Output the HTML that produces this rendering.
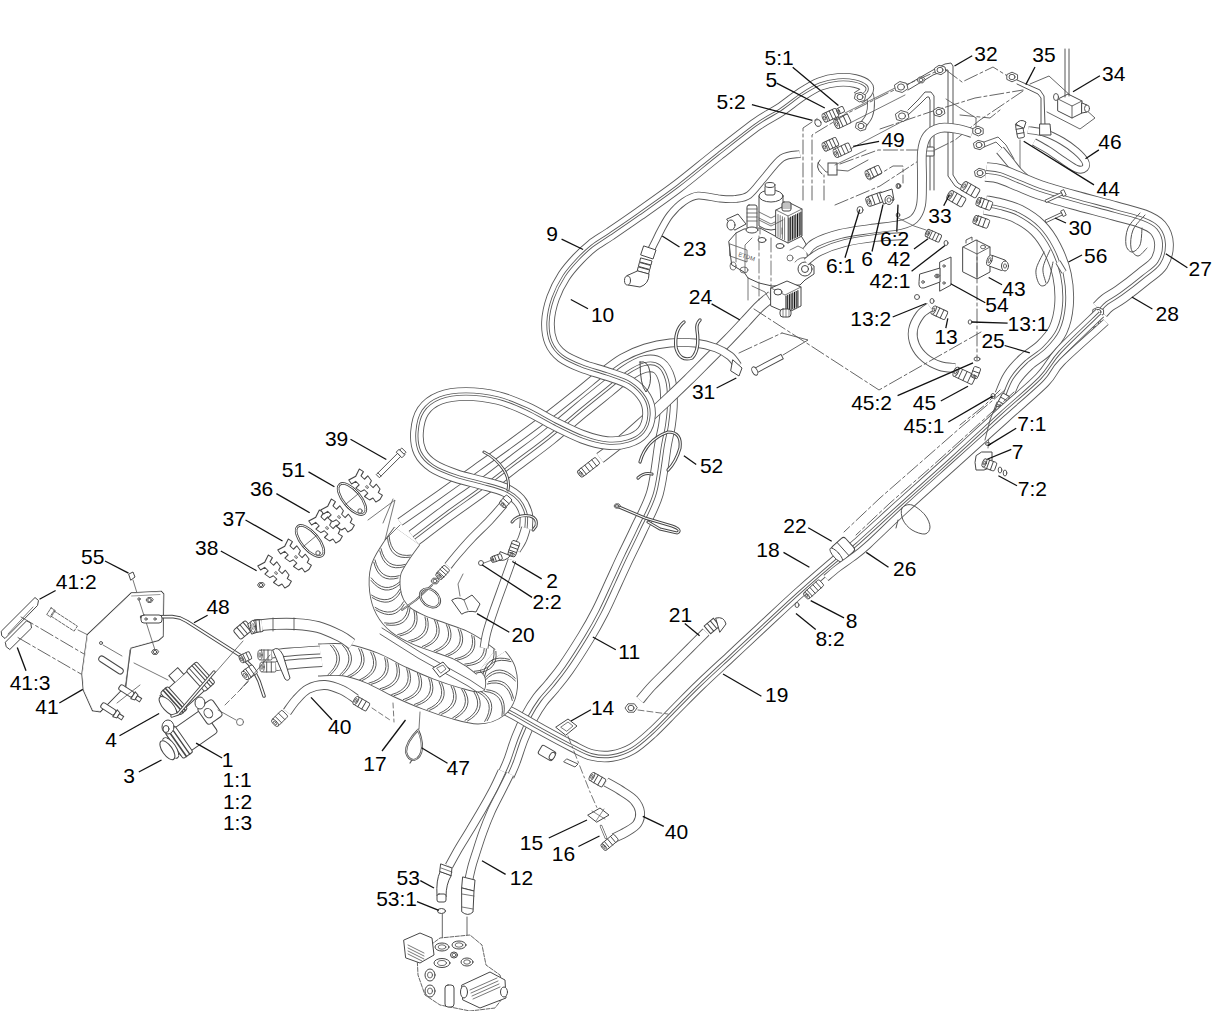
<!DOCTYPE html>
<html><head><meta charset="utf-8"><title>Hydraulic parts diagram</title>
<style>html,body{margin:0;padding:0;background:#fff;width:1214px;height:1011px;overflow:hidden}svg{display:block}</style></head>
<body><svg width="1214" height="1011" viewBox="0 0 1214 1011">
<rect width="1214" height="1011" fill="#fff"/>
<g stroke-linecap="round">
<path d="M414.0,538.0C419.5,533.8 435.7,521.3 447.0,513.0C458.3,504.7 470.5,496.5 482.0,488.0C493.5,479.5 504.8,470.5 516.0,462.0C527.2,453.5 538.2,445.7 549.0,437.0C559.8,428.3 571.3,418.0 581.0,410.0C590.7,402.0 599.3,395.2 607.0,389.0C614.7,382.8 620.7,377.2 627.0,373.0C633.3,368.8 639.7,365.2 645.0,364.0C650.3,362.8 655.3,363.3 659.0,366.0C662.7,368.7 665.3,374.0 667.0,380.0C668.7,386.0 669.0,394.5 669.0,402.0C669.0,409.5 668.0,417.8 667.0,425.0C666.0,432.2 665.0,433.7 663.0,445.0C661.0,456.3 659.0,479.0 655.0,493.0C651.0,507.0 643.8,518.5 639.0,529.0C634.2,539.5 630.2,547.2 626.0,556.0C621.8,564.8 618.3,572.7 614.0,582.0C609.7,591.3 604.7,602.8 600.0,612.0C595.3,621.2 591.7,627.7 586.0,637.0C580.3,646.3 571.7,659.8 566.0,668.0C560.3,676.2 556.3,680.7 552.0,686.0C547.7,691.3 543.7,695.0 540.0,700.0C536.3,705.0 533.3,709.7 530.0,716.0C526.7,722.3 523.0,730.5 520.0,738.0C517.0,745.5 514.3,754.8 512.0,761.0C509.7,767.2 507.0,772.7 506.0,775.0" fill="none" stroke="#5a5a5a" stroke-width="17.6" stroke-linecap="butt" stroke-linejoin="round"/>
<path d="M414.0,538.0C419.5,533.8 435.7,521.3 447.0,513.0C458.3,504.7 470.5,496.5 482.0,488.0C493.5,479.5 504.8,470.5 516.0,462.0C527.2,453.5 538.2,445.7 549.0,437.0C559.8,428.3 571.3,418.0 581.0,410.0C590.7,402.0 599.3,395.2 607.0,389.0C614.7,382.8 620.7,377.2 627.0,373.0C633.3,368.8 639.7,365.2 645.0,364.0C650.3,362.8 655.3,363.3 659.0,366.0C662.7,368.7 665.3,374.0 667.0,380.0C668.7,386.0 669.0,394.5 669.0,402.0C669.0,409.5 668.0,417.8 667.0,425.0C666.0,432.2 665.0,433.7 663.0,445.0C661.0,456.3 659.0,479.0 655.0,493.0C651.0,507.0 643.8,518.5 639.0,529.0C634.2,539.5 630.2,547.2 626.0,556.0C621.8,564.8 618.3,572.7 614.0,582.0C609.7,591.3 604.7,602.8 600.0,612.0C595.3,621.2 591.7,627.7 586.0,637.0C580.3,646.3 571.7,659.8 566.0,668.0C560.3,676.2 556.3,680.7 552.0,686.0C547.7,691.3 543.7,695.0 540.0,700.0C536.3,705.0 533.3,709.7 530.0,716.0C526.7,722.3 523.0,730.5 520.0,738.0C517.0,745.5 514.3,754.8 512.0,761.0C509.7,767.2 507.0,772.7 506.0,775.0" fill="none" stroke="#fff" stroke-width="15.8" stroke-linecap="butt" stroke-linejoin="round"/>
<path d="M414.0,538.0C419.5,533.8 435.7,521.3 447.0,513.0C458.3,504.7 470.5,496.5 482.0,488.0C493.5,479.5 504.8,470.5 516.0,462.0C527.2,453.5 538.2,445.7 549.0,437.0C559.8,428.3 571.3,418.0 581.0,410.0C590.7,402.0 599.3,395.2 607.0,389.0C614.7,382.8 620.7,377.2 627.0,373.0C633.3,368.8 639.7,365.2 645.0,364.0C650.3,362.8 655.3,363.3 659.0,366.0C662.7,368.7 665.3,374.0 667.0,380.0C668.7,386.0 669.0,394.5 669.0,402.0C669.0,409.5 668.0,417.8 667.0,425.0C666.0,432.2 665.0,433.7 663.0,445.0C661.0,456.3 659.0,479.0 655.0,493.0C651.0,507.0 643.8,518.5 639.0,529.0C634.2,539.5 630.2,547.2 626.0,556.0C621.8,564.8 618.3,572.7 614.0,582.0C609.7,591.3 604.7,602.8 600.0,612.0C595.3,621.2 591.7,627.7 586.0,637.0C580.3,646.3 571.7,659.8 566.0,668.0C560.3,676.2 556.3,680.7 552.0,686.0C547.7,691.3 543.7,695.0 540.0,700.0C536.3,705.0 533.3,709.7 530.0,716.0C526.7,722.3 523.0,730.5 520.0,738.0C517.0,745.5 514.3,754.8 512.0,761.0C509.7,767.2 507.0,772.7 506.0,775.0" fill="none" stroke="#5a5a5a" stroke-width="3.8" stroke-linecap="butt" stroke-linejoin="round"/>
<path d="M414.0,538.0C419.5,533.8 435.7,521.3 447.0,513.0C458.3,504.7 470.5,496.5 482.0,488.0C493.5,479.5 504.8,470.5 516.0,462.0C527.2,453.5 538.2,445.7 549.0,437.0C559.8,428.3 571.3,418.0 581.0,410.0C590.7,402.0 599.3,395.2 607.0,389.0C614.7,382.8 620.7,377.2 627.0,373.0C633.3,368.8 639.7,365.2 645.0,364.0C650.3,362.8 655.3,363.3 659.0,366.0C662.7,368.7 665.3,374.0 667.0,380.0C668.7,386.0 669.0,394.5 669.0,402.0C669.0,409.5 668.0,417.8 667.0,425.0C666.0,432.2 665.0,433.7 663.0,445.0C661.0,456.3 659.0,479.0 655.0,493.0C651.0,507.0 643.8,518.5 639.0,529.0C634.2,539.5 630.2,547.2 626.0,556.0C621.8,564.8 618.3,572.7 614.0,582.0C609.7,591.3 604.7,602.8 600.0,612.0C595.3,621.2 591.7,627.7 586.0,637.0C580.3,646.3 571.7,659.8 566.0,668.0C560.3,676.2 556.3,680.7 552.0,686.0C547.7,691.3 543.7,695.0 540.0,700.0C536.3,705.0 533.3,709.7 530.0,716.0C526.7,722.3 523.0,730.5 520.0,738.0C517.0,745.5 514.3,754.8 512.0,761.0C509.7,767.2 507.0,772.7 506.0,775.0" fill="none" stroke="#fff" stroke-width="2.0" stroke-linecap="butt" stroke-linejoin="round"/>
<path d="M502.0,771.0C500.7,773.8 497.2,781.8 494.0,788.0C490.8,794.2 487.0,801.0 483.0,808.0C479.0,815.0 474.0,823.3 470.0,830.0C466.0,836.7 462.5,842.0 459.0,848.0C455.5,854.0 450.7,863.0 449.0,866.0" fill="none" stroke="#5a5a5a" stroke-width="8.8" stroke-linecap="butt" stroke-linejoin="round"/>
<path d="M502.0,771.0C500.7,773.8 497.2,781.8 494.0,788.0C490.8,794.2 487.0,801.0 483.0,808.0C479.0,815.0 474.0,823.3 470.0,830.0C466.0,836.7 462.5,842.0 459.0,848.0C455.5,854.0 450.7,863.0 449.0,866.0" fill="none" stroke="#fff" stroke-width="7.0" stroke-linecap="butt" stroke-linejoin="round"/>
<path d="M510.0,774.0C508.5,777.0 504.2,785.7 501.0,792.0C497.8,798.3 494.0,805.3 491.0,812.0C488.0,818.7 485.3,825.7 483.0,832.0C480.7,838.3 478.8,844.3 477.0,850.0C475.2,855.7 473.3,861.2 472.0,866.0C470.7,870.8 469.5,876.8 469.0,879.0" fill="none" stroke="#5a5a5a" stroke-width="8.8" stroke-linecap="butt" stroke-linejoin="round"/>
<path d="M510.0,774.0C508.5,777.0 504.2,785.7 501.0,792.0C497.8,798.3 494.0,805.3 491.0,812.0C488.0,818.7 485.3,825.7 483.0,832.0C480.7,838.3 478.8,844.3 477.0,850.0C475.2,855.7 473.3,861.2 472.0,866.0C470.7,870.8 469.5,876.8 469.0,879.0" fill="none" stroke="#fff" stroke-width="7.0" stroke-linecap="butt" stroke-linejoin="round"/>
<path d="M772.0,296.0C770.0,297.7 764.5,301.7 760.0,306.0C755.5,310.3 750.3,316.3 745.0,322.0C739.7,327.7 734.2,333.7 728.0,340.0C721.8,346.3 714.7,353.3 708.0,360.0C701.3,366.7 695.2,373.0 688.0,380.0C680.8,387.0 673.0,394.5 665.0,402.0C657.0,409.5 647.8,418.0 640.0,425.0C632.2,432.0 624.7,438.5 618.0,444.0C611.3,449.5 603.0,455.7 600.0,458.0" fill="none" stroke="#5a5a5a" stroke-width="11.8" stroke-linecap="butt" stroke-linejoin="round"/>
<path d="M772.0,296.0C770.0,297.7 764.5,301.7 760.0,306.0C755.5,310.3 750.3,316.3 745.0,322.0C739.7,327.7 734.2,333.7 728.0,340.0C721.8,346.3 714.7,353.3 708.0,360.0C701.3,366.7 695.2,373.0 688.0,380.0C680.8,387.0 673.0,394.5 665.0,402.0C657.0,409.5 647.8,418.0 640.0,425.0C632.2,432.0 624.7,438.5 618.0,444.0C611.3,449.5 603.0,455.7 600.0,458.0" fill="none" stroke="#fff" stroke-width="10.0" stroke-linecap="butt" stroke-linejoin="round"/>
<g transform="translate(589.0,467.0) rotate(-38.0)"><rect x="-11.0" y="-4.0" width="22.0" height="8.0" rx="1.5" fill="#fff" stroke="#474747" stroke-width="0.9"/><line x1="-6.6" y1="-4.0" x2="-6.6" y2="4.0" stroke="#474747" stroke-width="0.9"/><line x1="-2.2" y1="-4.0" x2="-2.2" y2="4.0" stroke="#474747" stroke-width="0.9"/><line x1="2.2" y1="-4.0" x2="2.2" y2="4.0" stroke="#474747" stroke-width="0.9"/><line x1="6.6" y1="-4.0" x2="6.6" y2="4.0" stroke="#474747" stroke-width="0.9"/><ellipse cx="-11.0" cy="0" rx="1.8" ry="4.0" fill="#fff" stroke="#474747" stroke-width="0.9"/><ellipse cx="-11.0" cy="0" rx="0.8" ry="2.0" fill="none" stroke="#474747" stroke-width="0.72"/></g>
<path d="M400.0,522.0C406.7,517.3 427.5,502.8 440.0,494.0C452.5,485.2 463.3,477.3 475.0,469.0C486.7,460.7 498.3,452.5 510.0,444.0C521.7,435.5 533.7,426.7 545.0,418.0C556.3,409.3 568.8,399.3 578.0,392.0C587.2,384.7 592.7,379.7 600.0,374.0C607.3,368.3 614.5,362.3 622.0,358.0C629.5,353.7 637.0,350.5 645.0,348.0C653.0,345.5 661.7,343.8 670.0,343.0C678.3,342.2 687.3,342.2 695.0,343.0C702.7,343.8 710.2,345.8 716.0,348.0C721.8,350.2 726.3,353.0 730.0,356.0C733.7,359.0 736.7,364.3 738.0,366.0" fill="none" stroke="#5a5a5a" stroke-width="8.8" stroke-linecap="butt" stroke-linejoin="round"/>
<path d="M400.0,522.0C406.7,517.3 427.5,502.8 440.0,494.0C452.5,485.2 463.3,477.3 475.0,469.0C486.7,460.7 498.3,452.5 510.0,444.0C521.7,435.5 533.7,426.7 545.0,418.0C556.3,409.3 568.8,399.3 578.0,392.0C587.2,384.7 592.7,379.7 600.0,374.0C607.3,368.3 614.5,362.3 622.0,358.0C629.5,353.7 637.0,350.5 645.0,348.0C653.0,345.5 661.7,343.8 670.0,343.0C678.3,342.2 687.3,342.2 695.0,343.0C702.7,343.8 710.2,345.8 716.0,348.0C721.8,350.2 726.3,353.0 730.0,356.0C733.7,359.0 736.7,364.3 738.0,366.0" fill="none" stroke="#fff" stroke-width="7.0" stroke-linecap="butt" stroke-linejoin="round"/>
<path d="M862.0,126.0C863.2,124.3 867.5,120.0 869.0,116.0C870.5,112.0 871.2,106.3 871.0,102.0C870.8,97.7 869.8,93.3 868.0,90.0C866.2,86.7 861.3,83.3 860.0,82.0" fill="none" stroke="#5a5a5a" stroke-width="7.8" stroke-linecap="butt" stroke-linejoin="round"/>
<path d="M862.0,126.0C863.2,124.3 867.5,120.0 869.0,116.0C870.5,112.0 871.2,106.3 871.0,102.0C870.8,97.7 869.8,93.3 868.0,90.0C866.2,86.7 861.3,83.3 860.0,82.0" fill="none" stroke="#fff" stroke-width="6.0" stroke-linecap="butt" stroke-linejoin="round"/>
<path d="M858.0,98.0C859.3,97.0 864.7,94.0 866.0,92.0C867.3,90.0 867.8,87.8 866.0,86.0C864.2,84.2 859.7,82.0 855.0,81.0C850.3,80.0 843.8,79.5 838.0,80.0C832.2,80.5 826.0,81.7 820.0,84.0C814.0,86.3 808.7,89.7 802.0,94.0C795.3,98.3 787.5,105.0 780.0,110.0C772.5,115.0 767.3,116.7 757.0,124.0C746.7,131.3 731.2,143.7 718.0,154.0C704.8,164.3 691.2,176.0 678.0,186.0C664.8,196.0 650.3,206.0 639.0,214.0C627.7,222.0 617.8,228.7 610.0,234.0C602.2,239.3 597.3,241.8 592.0,246.0C586.7,250.2 582.7,254.0 578.0,259.0C573.3,264.0 568.2,269.5 564.0,276.0C559.8,282.5 555.7,290.3 553.0,298.0C550.3,305.7 548.3,314.7 548.0,322.0C547.7,329.3 548.7,336.3 551.0,342.0C553.3,347.7 556.8,352.0 562.0,356.0C567.2,360.0 574.5,363.0 582.0,366.0C589.5,369.0 599.0,371.2 607.0,374.0C615.0,376.8 623.7,379.0 630.0,383.0C636.3,387.0 641.8,392.7 645.0,398.0C648.2,403.3 649.3,409.3 649.0,415.0C648.7,420.7 646.5,427.7 643.0,432.0C639.5,436.3 634.0,439.2 628.0,441.0C622.0,442.8 614.5,443.7 607.0,443.0C599.5,442.3 591.7,440.2 583.0,437.0C574.3,433.8 564.3,428.7 555.0,424.0C545.7,419.3 536.5,413.3 527.0,409.0C517.5,404.7 508.2,400.5 498.0,398.0C487.8,395.5 475.7,394.0 466.0,394.0C456.3,394.0 447.2,395.2 440.0,398.0C432.8,400.8 426.8,405.3 423.0,411.0C419.2,416.7 417.5,425.2 417.0,432.0C416.5,438.8 417.3,446.3 420.0,452.0C422.7,457.7 427.0,462.0 433.0,466.0C439.0,470.0 447.8,473.2 456.0,476.0C464.2,478.8 473.8,480.7 482.0,483.0C490.2,485.3 498.8,487.2 505.0,490.0C511.2,492.8 515.5,496.0 519.0,500.0C522.5,504.0 524.8,509.3 526.0,514.0C527.2,518.7 526.0,525.7 526.0,528.0" fill="none" stroke="#5a5a5a" stroke-width="13.6" stroke-linecap="butt" stroke-linejoin="round"/>
<path d="M858.0,98.0C859.3,97.0 864.7,94.0 866.0,92.0C867.3,90.0 867.8,87.8 866.0,86.0C864.2,84.2 859.7,82.0 855.0,81.0C850.3,80.0 843.8,79.5 838.0,80.0C832.2,80.5 826.0,81.7 820.0,84.0C814.0,86.3 808.7,89.7 802.0,94.0C795.3,98.3 787.5,105.0 780.0,110.0C772.5,115.0 767.3,116.7 757.0,124.0C746.7,131.3 731.2,143.7 718.0,154.0C704.8,164.3 691.2,176.0 678.0,186.0C664.8,196.0 650.3,206.0 639.0,214.0C627.7,222.0 617.8,228.7 610.0,234.0C602.2,239.3 597.3,241.8 592.0,246.0C586.7,250.2 582.7,254.0 578.0,259.0C573.3,264.0 568.2,269.5 564.0,276.0C559.8,282.5 555.7,290.3 553.0,298.0C550.3,305.7 548.3,314.7 548.0,322.0C547.7,329.3 548.7,336.3 551.0,342.0C553.3,347.7 556.8,352.0 562.0,356.0C567.2,360.0 574.5,363.0 582.0,366.0C589.5,369.0 599.0,371.2 607.0,374.0C615.0,376.8 623.7,379.0 630.0,383.0C636.3,387.0 641.8,392.7 645.0,398.0C648.2,403.3 649.3,409.3 649.0,415.0C648.7,420.7 646.5,427.7 643.0,432.0C639.5,436.3 634.0,439.2 628.0,441.0C622.0,442.8 614.5,443.7 607.0,443.0C599.5,442.3 591.7,440.2 583.0,437.0C574.3,433.8 564.3,428.7 555.0,424.0C545.7,419.3 536.5,413.3 527.0,409.0C517.5,404.7 508.2,400.5 498.0,398.0C487.8,395.5 475.7,394.0 466.0,394.0C456.3,394.0 447.2,395.2 440.0,398.0C432.8,400.8 426.8,405.3 423.0,411.0C419.2,416.7 417.5,425.2 417.0,432.0C416.5,438.8 417.3,446.3 420.0,452.0C422.7,457.7 427.0,462.0 433.0,466.0C439.0,470.0 447.8,473.2 456.0,476.0C464.2,478.8 473.8,480.7 482.0,483.0C490.2,485.3 498.8,487.2 505.0,490.0C511.2,492.8 515.5,496.0 519.0,500.0C522.5,504.0 524.8,509.3 526.0,514.0C527.2,518.7 526.0,525.7 526.0,528.0" fill="none" stroke="#fff" stroke-width="11.8" stroke-linecap="butt" stroke-linejoin="round"/>
<path d="M858.0,98.0C859.3,97.0 864.7,94.0 866.0,92.0C867.3,90.0 867.8,87.8 866.0,86.0C864.2,84.2 859.7,82.0 855.0,81.0C850.3,80.0 843.8,79.5 838.0,80.0C832.2,80.5 826.0,81.7 820.0,84.0C814.0,86.3 808.7,89.7 802.0,94.0C795.3,98.3 787.5,105.0 780.0,110.0C772.5,115.0 767.3,116.7 757.0,124.0C746.7,131.3 731.2,143.7 718.0,154.0C704.8,164.3 691.2,176.0 678.0,186.0C664.8,196.0 650.3,206.0 639.0,214.0C627.7,222.0 617.8,228.7 610.0,234.0C602.2,239.3 597.3,241.8 592.0,246.0C586.7,250.2 582.7,254.0 578.0,259.0C573.3,264.0 568.2,269.5 564.0,276.0C559.8,282.5 555.7,290.3 553.0,298.0C550.3,305.7 548.3,314.7 548.0,322.0C547.7,329.3 548.7,336.3 551.0,342.0C553.3,347.7 556.8,352.0 562.0,356.0C567.2,360.0 574.5,363.0 582.0,366.0C589.5,369.0 599.0,371.2 607.0,374.0C615.0,376.8 623.7,379.0 630.0,383.0C636.3,387.0 641.8,392.7 645.0,398.0C648.2,403.3 649.3,409.3 649.0,415.0C648.7,420.7 646.5,427.7 643.0,432.0C639.5,436.3 634.0,439.2 628.0,441.0C622.0,442.8 614.5,443.7 607.0,443.0C599.5,442.3 591.7,440.2 583.0,437.0C574.3,433.8 564.3,428.7 555.0,424.0C545.7,419.3 536.5,413.3 527.0,409.0C517.5,404.7 508.2,400.5 498.0,398.0C487.8,395.5 475.7,394.0 466.0,394.0C456.3,394.0 447.2,395.2 440.0,398.0C432.8,400.8 426.8,405.3 423.0,411.0C419.2,416.7 417.5,425.2 417.0,432.0C416.5,438.8 417.3,446.3 420.0,452.0C422.7,457.7 427.0,462.0 433.0,466.0C439.0,470.0 447.8,473.2 456.0,476.0C464.2,478.8 473.8,480.7 482.0,483.0C490.2,485.3 498.8,487.2 505.0,490.0C511.2,492.8 515.5,496.0 519.0,500.0C522.5,504.0 524.8,509.3 526.0,514.0C527.2,518.7 526.0,525.7 526.0,528.0" fill="none" stroke="#5a5a5a" stroke-width="3.2" stroke-linecap="butt" stroke-linejoin="round"/>
<path d="M858.0,98.0C859.3,97.0 864.7,94.0 866.0,92.0C867.3,90.0 867.8,87.8 866.0,86.0C864.2,84.2 859.7,82.0 855.0,81.0C850.3,80.0 843.8,79.5 838.0,80.0C832.2,80.5 826.0,81.7 820.0,84.0C814.0,86.3 808.7,89.7 802.0,94.0C795.3,98.3 787.5,105.0 780.0,110.0C772.5,115.0 767.3,116.7 757.0,124.0C746.7,131.3 731.2,143.7 718.0,154.0C704.8,164.3 691.2,176.0 678.0,186.0C664.8,196.0 650.3,206.0 639.0,214.0C627.7,222.0 617.8,228.7 610.0,234.0C602.2,239.3 597.3,241.8 592.0,246.0C586.7,250.2 582.7,254.0 578.0,259.0C573.3,264.0 568.2,269.5 564.0,276.0C559.8,282.5 555.7,290.3 553.0,298.0C550.3,305.7 548.3,314.7 548.0,322.0C547.7,329.3 548.7,336.3 551.0,342.0C553.3,347.7 556.8,352.0 562.0,356.0C567.2,360.0 574.5,363.0 582.0,366.0C589.5,369.0 599.0,371.2 607.0,374.0C615.0,376.8 623.7,379.0 630.0,383.0C636.3,387.0 641.8,392.7 645.0,398.0C648.2,403.3 649.3,409.3 649.0,415.0C648.7,420.7 646.5,427.7 643.0,432.0C639.5,436.3 634.0,439.2 628.0,441.0C622.0,442.8 614.5,443.7 607.0,443.0C599.5,442.3 591.7,440.2 583.0,437.0C574.3,433.8 564.3,428.7 555.0,424.0C545.7,419.3 536.5,413.3 527.0,409.0C517.5,404.7 508.2,400.5 498.0,398.0C487.8,395.5 475.7,394.0 466.0,394.0C456.3,394.0 447.2,395.2 440.0,398.0C432.8,400.8 426.8,405.3 423.0,411.0C419.2,416.7 417.5,425.2 417.0,432.0C416.5,438.8 417.3,446.3 420.0,452.0C422.7,457.7 427.0,462.0 433.0,466.0C439.0,470.0 447.8,473.2 456.0,476.0C464.2,478.8 473.8,480.7 482.0,483.0C490.2,485.3 498.8,487.2 505.0,490.0C511.2,492.8 515.5,496.0 519.0,500.0C522.5,504.0 524.8,509.3 526.0,514.0C527.2,518.7 526.0,525.7 526.0,528.0" fill="none" stroke="#fff" stroke-width="1.4" stroke-linecap="butt" stroke-linejoin="round"/>
<path d="M800.0,154.0C797.0,154.7 788.0,154.0 782.0,158.0C776.0,162.0 769.5,171.8 764.0,178.0C758.5,184.2 753.8,191.5 749.0,195.0C744.2,198.5 739.8,198.4 735.0,199.0C730.2,199.6 726.2,199.2 720.0,198.6C713.8,198.0 704.0,195.1 698.0,195.6C692.0,196.1 688.7,198.3 684.0,201.5C679.3,204.7 673.8,210.2 670.0,215.0C666.2,219.8 663.5,225.5 661.0,230.0C658.5,234.5 656.7,238.7 655.0,242.0C653.3,245.3 651.7,248.7 651.0,250.0" fill="none" stroke="#5a5a5a" stroke-width="7.8" stroke-linecap="butt" stroke-linejoin="round"/>
<path d="M800.0,154.0C797.0,154.7 788.0,154.0 782.0,158.0C776.0,162.0 769.5,171.8 764.0,178.0C758.5,184.2 753.8,191.5 749.0,195.0C744.2,198.5 739.8,198.4 735.0,199.0C730.2,199.6 726.2,199.2 720.0,198.6C713.8,198.0 704.0,195.1 698.0,195.6C692.0,196.1 688.7,198.3 684.0,201.5C679.3,204.7 673.8,210.2 670.0,215.0C666.2,219.8 663.5,225.5 661.0,230.0C658.5,234.5 656.7,238.7 655.0,242.0C653.3,245.3 651.7,248.7 651.0,250.0" fill="none" stroke="#fff" stroke-width="6.0" stroke-linecap="butt" stroke-linejoin="round"/>
<path d="M644,246 L656,250 L653,259 L641,255 Z" fill="#fff" stroke="#474747" stroke-width="1"/>
<path d="M641.0,258.0 L652.0,261.0 L651.0,265.0 L640.0,262.0 Z" fill="#fff" stroke="#474747" stroke-width="1"/>
<path d="M639.8,262.5 L650.8,265.5 L649.8,269.5 L638.8,266.5 Z" fill="#fff" stroke="#474747" stroke-width="1"/>
<path d="M638.6,267.0 L649.6,270.0 L648.6,274.0 L637.6,271.0 Z" fill="#fff" stroke="#474747" stroke-width="1"/>
<path d="M638,271 L649,274 Q649,284 640,287 L628,285 L627,276 Z" fill="#fff" stroke="#474747" stroke-width="1"/>
<ellipse cx="627.5" cy="280.5" rx="3" ry="4.5" fill="#fff" stroke="#474747" stroke-width="1"/>
<path d="M729,241 L736,233 L744,229 L760,228 L775,236 L800,234 L806,244 L808,262 L814,266 L814,274 L805,280 L800,285 L772,286 L759,283 L748,278 L744,272 L732,265 Z" fill="#fff" stroke="#474747" stroke-width="1"/>
<path d="M727,219 L738,214 L746,224 L735,230 Z" fill="#fff" stroke="#474747" stroke-width="1"/>
<ellipse cx="731" cy="225" rx="4" ry="5" fill="#fff" stroke="#474747" stroke-width="1"/>
<rect x="747" y="205" width="10" height="24" rx="2" fill="#fff" stroke="#474747" stroke-width="1"/>
<path d="M747.0,209.0 L757.0,209.0" fill="none" stroke="#555" stroke-width="0.8" stroke-linejoin="round"/>
<path d="M747.0,213.0 L757.0,213.0" fill="none" stroke="#555" stroke-width="0.8" stroke-linejoin="round"/>
<path d="M747.0,217.0 L757.0,217.0" fill="none" stroke="#555" stroke-width="0.8" stroke-linejoin="round"/>
<path d="M747.0,221.0 L757.0,221.0" fill="none" stroke="#555" stroke-width="0.8" stroke-linejoin="round"/>
<ellipse cx="752" cy="230" rx="6" ry="3" fill="#fff" stroke="#474747" stroke-width="1"/>
<path d="M759,196 L759,226 Q771,234 783,226 L783,196 Z" fill="#fff" stroke="#474747" stroke-width="1"/>
<ellipse cx="771" cy="196" rx="12" ry="6" fill="#fff" stroke="#474747" stroke-width="1"/>
<path d="M759.0,212.0 L771.0,218.0 L783.0,212.0" fill="none" stroke="#555" stroke-width="0.8" stroke-linejoin="round"/>
<path d="M759.0,218.0 L771.0,224.0 L783.0,218.0" fill="none" stroke="#555" stroke-width="0.8" stroke-linejoin="round"/>
<rect x="765" y="185" width="10" height="10" rx="2" fill="#fff" stroke="#474747" stroke-width="1"/>
<ellipse cx="770" cy="185" rx="5" ry="2.5" fill="#fff" stroke="#474747" stroke-width="1"/>
<path d="M776,210 L790,203 L802,209 L802,236 L788,243 L776,237 Z" fill="#fff" stroke="#474747" stroke-width="1"/>
<path d="M776.0,210.0 L788.0,216.0 L802.0,209.0" fill="none" stroke="#555" stroke-width="0.8" stroke-linejoin="round"/>
<path d="M788.0,216.0 L788.0,243.0" fill="none" stroke="#555" stroke-width="0.8" stroke-linejoin="round"/>
<path d="M789.0,218.0 L789.0,241.0 M790.7,217.1 L790.7,240.1 M792.4,216.3 L792.4,239.3 M794.1,215.4 L794.1,238.4 M795.8,214.6 L795.8,237.6 M797.5,213.8 L797.5,236.8 M799.2,212.9 L799.2,235.9 M800.9,212.1 L800.9,235.1" stroke="#111" stroke-width="1.0"/>
<path d="M778.0,214.5 L778.0,236.5 M780.2,215.6 L780.2,237.6 M782.4,216.7 L782.4,238.7 M784.6,217.8 L784.6,239.8" stroke="#555" stroke-width="0.8"/>
<rect x="782" y="202" width="9" height="9" rx="2" fill="#fff" stroke="#474747" stroke-width="1"/>
<path d="M782.0,204.0 L791.0,204.0" fill="none" stroke="#555" stroke-width="0.7" stroke-linejoin="round"/>
<path d="M782.0,206.0 L791.0,206.0" fill="none" stroke="#555" stroke-width="0.7" stroke-linejoin="round"/>
<path d="M782.0,208.0 L791.0,208.0" fill="none" stroke="#555" stroke-width="0.7" stroke-linejoin="round"/>
<ellipse cx="805" cy="269" rx="7" ry="7" fill="#fff" stroke="#474747" stroke-width="1"/>
<ellipse cx="805" cy="269" rx="3.5" ry="3.5" fill="#fff" stroke="#474747" stroke-width="1"/>
<path d="M730,244 L747,250 L747,262 L730,256 Z" fill="none" stroke="#555" stroke-width="0.8"/>
<text x="738" y="256" font-family="Liberation Sans" font-size="6" transform="rotate(18 738 256)" fill="#555">ETDM</text>
<path d="M759.0,236.0 L759.0,300.0" fill="none" stroke="#555" stroke-width="0.8" stroke-dasharray="14 3 3 3" stroke-linejoin="round"/>
<path d="M771.0,238.0 L771.0,300.0" fill="none" stroke="#555" stroke-width="0.8" stroke-dasharray="14 3 3 3" stroke-linejoin="round"/>
<path d="M748.0,278.0 L748.0,300.0" fill="none" stroke="#555" stroke-width="0.8" stroke-linejoin="round"/>
<ellipse cx="762" cy="240" rx="4" ry="2.5" fill="#fff" stroke="#474747" stroke-width="1"/>
<ellipse cx="780" cy="246" rx="4" ry="2.5" fill="#fff" stroke="#474747" stroke-width="1"/>
<ellipse cx="790" cy="258" rx="3" ry="3" fill="none" stroke="#555" stroke-width="0.8"/>
<path d="M736.0,233.0 L736.0,262.0" fill="none" stroke="#555" stroke-width="0.8" stroke-linejoin="round"/>
<path d="M745.0,272.0 L745.0,245.0 L752.0,238.0" fill="none" stroke="#555" stroke-width="0.8" stroke-linejoin="round"/>
<path d="M790.0,250.0 L798.0,246.0 L806.0,250.0" fill="none" stroke="#555" stroke-width="0.8" stroke-linejoin="round"/>
<path d="M795,262 Q800,256 808,258" fill="none" stroke="#555" stroke-width="0.8"/>
<path d="M752,286 L765,292 L770,300" fill="none" stroke="#555" stroke-width="0.8"/>
<ellipse cx="744" cy="270" rx="4" ry="3" fill="none" stroke="#555" stroke-width="0.8"/>
<ellipse cx="733" cy="266" rx="3" ry="4" fill="none" stroke="#555" stroke-width="0.8"/>
<path d="M760.0,228.0 L760.0,234.0" fill="none" stroke="#555" stroke-width="0.8" stroke-linejoin="round"/>
<path d="M782.0,228.0 L782.0,234.0" fill="none" stroke="#555" stroke-width="0.8" stroke-linejoin="round"/>
<path d="M759.0,220.0 L771.0,226.0 L783.0,220.0" fill="none" stroke="#555" stroke-width="0.8" stroke-linejoin="round"/>
<path d="M771,288 L787,281 L801,287 L801,306 L787,313 L771,306 Z" fill="#fff" stroke="#474747" stroke-width="1"/>
<path d="M771.0,288.0 L785.0,295.0 L801.0,287.0" fill="none" stroke="#555" stroke-width="0.8" stroke-linejoin="round"/>
<path d="M786.0,296.0 L786.0,312.0 M787.7,295.2 L787.7,311.2 M789.4,294.5 L789.4,310.5 M791.1,293.7 L791.1,309.7 M792.8,292.9 L792.8,308.9 M794.5,292.2 L794.5,308.2 M796.2,291.4 L796.2,307.4 M797.9,290.6 L797.9,306.6" stroke="#111" stroke-width="1.0"/>
<rect x="780" y="309" width="11" height="8" rx="3" fill="#fff" stroke="#474747" stroke-width="1"/>
<path d="M783.0,309.0 L783.0,317.0" fill="none" stroke="#555" stroke-width="0.7" stroke-linejoin="round"/>
<path d="M786.0,309.0 L786.0,317.0" fill="none" stroke="#555" stroke-width="0.7" stroke-linejoin="round"/>
<path d="M789.0,309.0 L789.0,317.0" fill="none" stroke="#555" stroke-width="0.7" stroke-linejoin="round"/>
<ellipse cx="778" cy="292" rx="4" ry="3" fill="#fff" stroke="#474747" stroke-width="1"/>
<g transform="translate(831.0,115.0) rotate(-25.0)"><rect x="-7.0" y="-4.5" width="14.0" height="9.0" rx="1.5" fill="#fff" stroke="#474747" stroke-width="0.9"/><line x1="-3.5" y1="-4.5" x2="-3.5" y2="4.5" stroke="#474747" stroke-width="0.9"/><line x1="0.0" y1="-4.5" x2="0.0" y2="4.5" stroke="#474747" stroke-width="0.9"/><line x1="3.5" y1="-4.5" x2="3.5" y2="4.5" stroke="#474747" stroke-width="0.9"/><ellipse cx="-7.0" cy="0" rx="2.0" ry="4.5" fill="#fff" stroke="#474747" stroke-width="0.9"/><ellipse cx="-7.0" cy="0" rx="0.9" ry="2.2" fill="none" stroke="#474747" stroke-width="0.72"/></g>
<g transform="translate(841.0,110.0) rotate(-25.0)"><rect x="-3.0" y="-3.0" width="6.0" height="6.0" rx="1.5" fill="#fff" stroke="#474747" stroke-width="0.9"/><ellipse cx="-3.0" cy="0" rx="1.3" ry="3.0" fill="#fff" stroke="#474747" stroke-width="0.9"/><ellipse cx="-3.0" cy="0" rx="0.6" ry="1.5" fill="none" stroke="#474747" stroke-width="0.72"/></g>
<ellipse cx="818.0" cy="123.0" rx="3" ry="3.5" transform="rotate(-20 818.0 123.0)" fill="none" stroke="#474747" stroke-width="0.9"/>
<g transform="translate(843.0,121.0) rotate(-25.0)"><rect x="-7.0" y="-5.0" width="14.0" height="10.0" rx="1.5" fill="#fff" stroke="#474747" stroke-width="0.9"/><line x1="-2.3" y1="-5.0" x2="-2.3" y2="5.0" stroke="#474747" stroke-width="0.9"/><line x1="2.3" y1="-5.0" x2="2.3" y2="5.0" stroke="#474747" stroke-width="0.9"/><ellipse cx="-7.0" cy="0" rx="2.2" ry="5.0" fill="#fff" stroke="#474747" stroke-width="0.9"/><ellipse cx="-7.0" cy="0" rx="1.0" ry="2.5" fill="none" stroke="#474747" stroke-width="0.72"/></g>
<g transform="translate(831.0,144.0) rotate(-25.0)"><rect x="-7.0" y="-4.5" width="14.0" height="9.0" rx="1.5" fill="#fff" stroke="#474747" stroke-width="0.9"/><line x1="-3.5" y1="-4.5" x2="-3.5" y2="4.5" stroke="#474747" stroke-width="0.9"/><line x1="0.0" y1="-4.5" x2="0.0" y2="4.5" stroke="#474747" stroke-width="0.9"/><line x1="3.5" y1="-4.5" x2="3.5" y2="4.5" stroke="#474747" stroke-width="0.9"/><ellipse cx="-7.0" cy="0" rx="2.0" ry="4.5" fill="#fff" stroke="#474747" stroke-width="0.9"/><ellipse cx="-7.0" cy="0" rx="0.9" ry="2.2" fill="none" stroke="#474747" stroke-width="0.72"/></g>
<g transform="translate(843.0,150.0) rotate(-25.0)"><rect x="-8.0" y="-4.5" width="16.0" height="9.0" rx="1.5" fill="#fff" stroke="#474747" stroke-width="0.9"/><line x1="-4.0" y1="-4.5" x2="-4.0" y2="4.5" stroke="#474747" stroke-width="0.9"/><line x1="0.0" y1="-4.5" x2="0.0" y2="4.5" stroke="#474747" stroke-width="0.9"/><line x1="4.0" y1="-4.5" x2="4.0" y2="4.5" stroke="#474747" stroke-width="0.9"/><ellipse cx="-8.0" cy="0" rx="2.0" ry="4.5" fill="#fff" stroke="#474747" stroke-width="0.9"/><ellipse cx="-8.0" cy="0" rx="0.9" ry="2.2" fill="none" stroke="#474747" stroke-width="0.72"/></g>
<path d="M859.0,101.7 L854.4,98.6 L855.4,93.9 L861.0,92.3 L865.6,95.4 L864.6,100.1Z" fill="#fff" stroke="#474747" stroke-width="0.9"/>
<ellipse cx="860.0" cy="97.0" rx="3.0" ry="2.7" fill="none" stroke="#474747" stroke-width="0.9"/>
<path d="M860.0,130.7 L855.4,127.6 L856.4,122.9 L862.0,121.3 L866.6,124.4 L865.6,129.1Z" fill="#fff" stroke="#474747" stroke-width="0.9"/>
<ellipse cx="861.0" cy="126.0" rx="3.0" ry="2.7" fill="none" stroke="#474747" stroke-width="0.9"/>
<path d="M818.0,163.0 L826.0,172.0 L830.0,172.0" fill="none" stroke="#555" stroke-width="0.9" stroke-linejoin="round"/>
<path d="M820,160 Q814,167 822,174" fill="none" stroke="#474747" stroke-width="1"/>
<rect x="828" y="163" width="9" height="12" fill="#fff" stroke="#474747" stroke-width="1"/>
<path d="M837.0,170.0 L848.0,171.0 L868.0,160.0" fill="none" stroke="#555" stroke-width="0.9" stroke-linejoin="round"/>
<g transform="translate(874.0,172.0) rotate(-25.0)"><rect x="-7.0" y="-4.5" width="14.0" height="9.0" rx="1.5" fill="#fff" stroke="#474747" stroke-width="0.9"/><line x1="-2.3" y1="-4.5" x2="-2.3" y2="4.5" stroke="#474747" stroke-width="0.9"/><line x1="2.3" y1="-4.5" x2="2.3" y2="4.5" stroke="#474747" stroke-width="0.9"/><ellipse cx="-7.0" cy="0" rx="2.0" ry="4.5" fill="#fff" stroke="#474747" stroke-width="0.9"/><ellipse cx="-7.0" cy="0" rx="0.9" ry="2.2" fill="none" stroke="#474747" stroke-width="0.72"/></g>
<ellipse cx="898.0" cy="186.0" rx="2" ry="2.5" transform="rotate(0 898.0 186.0)" fill="none" stroke="#474747" stroke-width="0.9"/>
<path d="M845.0,113.0 L905.0,83.0" fill="none" stroke="#555" stroke-width="0.8" stroke-linejoin="round"/>
<path d="M850.0,123.0 L905.0,95.0" fill="none" stroke="#555" stroke-width="0.8" stroke-linejoin="round"/>
<path d="M850.0,149.0 L905.0,120.0" fill="none" stroke="#555" stroke-width="0.8" stroke-linejoin="round"/>
<path d="M835.0,165.0 L866.0,150.0" fill="none" stroke="#555" stroke-width="0.8" stroke-linejoin="round"/>
<path d="M803.0,200.0 L803.0,128.0 L818.0,118.0" fill="none" stroke="#555" stroke-width="0.9" stroke-dasharray="14 3 3 3" stroke-linejoin="round"/>
<path d="M812.0,200.0 L812.0,135.0 L850.0,112.0 L890.0,92.0 L935.0,72.0" fill="none" stroke="#555" stroke-width="0.9" stroke-dasharray="14 3 3 3" stroke-linejoin="round"/>
<path d="M824.0,200.0 L824.0,175.0" fill="none" stroke="#555" stroke-width="0.9" stroke-dasharray="14 3 3 3" stroke-linejoin="round"/>
<path d="M840.0,164.0 L878.0,150.0 L925.0,150.0" fill="none" stroke="#555" stroke-width="0.9" stroke-dasharray="14 3 3 3" stroke-linejoin="round"/>
<path d="M870.0,180.0 L893.0,166.0 L903.0,166.0 L903.0,183.0" fill="none" stroke="#555" stroke-width="0.9" stroke-dasharray="14 3 3 3" stroke-linejoin="round"/>
<path d="M835.0,205.0 L880.0,186.0 L935.0,150.0 L955.0,140.0 L980.0,120.0 L1023.0,91.0" fill="none" stroke="#555" stroke-width="0.9" stroke-dasharray="14 3 3 3" stroke-linejoin="round"/>
<path d="M946.0,70.0 L962.0,82.0 L993.0,67.0 L1009.0,77.0" fill="none" stroke="#555" stroke-width="0.9" stroke-dasharray="14 3 3 3" stroke-linejoin="round"/>
<path d="M880.0,129.0 L930.0,112.0 L975.0,98.0 L1023.0,90.0" fill="none" stroke="#555" stroke-width="0.9" stroke-dasharray="14 3 3 3" stroke-linejoin="round"/>
<path d="M946.0,99.0 L976.0,118.0" fill="none" stroke="#555" stroke-width="0.8" stroke-linejoin="round"/>
<path d="M976.0,118.0 L976.0,135.0" fill="none" stroke="#555" stroke-width="0.9" stroke-dasharray="14 3 3 3" stroke-linejoin="round"/>
<path d="M960.0,115.0 L990.0,118.0 L1000.0,110.0" fill="none" stroke="#555" stroke-width="0.9" stroke-dasharray="14 3 3 3" stroke-linejoin="round"/>
<path d="M907.0,85.0 L933.0,70.0 L945.0,64.0 L951.0,63.0 L953.0,66.0 L953.0,175.0 L958.0,183.0 L966.0,188.0" fill="none" stroke="#555" stroke-width="1.0" stroke-linejoin="round"/>
<path d="M908.0,90.0 L933.0,75.0 L946.0,70.0 L948.0,70.0 L948.0,176.0 L955.0,186.0 L963.0,191.0" fill="none" stroke="#555" stroke-width="1.0" stroke-linejoin="round"/>
<path d="M945.6,71.6 L941.0,74.7 L935.4,73.1 L934.4,68.4 L939.0,65.3 L944.6,66.9Z" fill="#fff" stroke="#474747" stroke-width="0.9"/>
<ellipse cx="940.0" cy="70.0" rx="3.0" ry="2.7" fill="none" stroke="#474747" stroke-width="0.9"/>
<path d="M907.6,88.9 L902.2,92.5 L895.6,90.6 L894.4,85.1 L899.8,81.5 L906.4,83.4Z" fill="#fff" stroke="#474747" stroke-width="0.9"/>
<ellipse cx="901.0" cy="87.0" rx="3.5" ry="3.1" fill="none" stroke="#474747" stroke-width="0.9"/>
<path d="M908.0,110.0 L918.0,100.0 L925.0,92.0 L931.0,92.0 L934.0,96.0 L934.0,190.0" fill="none" stroke="#555" stroke-width="1.0" stroke-linejoin="round"/>
<path d="M908.0,115.0 L920.0,104.0 L927.0,97.0 L929.0,97.0 L930.0,100.0 L930.0,190.0" fill="none" stroke="#555" stroke-width="1.0" stroke-linejoin="round"/>
<path d="M908.6,117.9 L903.2,121.5 L896.6,119.6 L895.4,114.1 L900.8,110.5 L907.4,112.4Z" fill="#fff" stroke="#474747" stroke-width="0.9"/>
<ellipse cx="902.0" cy="116.0" rx="3.5" ry="3.1" fill="none" stroke="#474747" stroke-width="0.9"/>
<path d="M944.6,113.6 L940.0,116.7 L934.4,115.1 L933.4,110.4 L938.0,107.3 L943.6,108.9Z" fill="#fff" stroke="#474747" stroke-width="0.9"/>
<ellipse cx="939.0" cy="112.0" rx="3.0" ry="2.7" fill="none" stroke="#474747" stroke-width="0.9"/>
<path d="M925.0,80.0 L923.0,82.8 L919.0,82.8 L917.0,80.0 L919.0,77.2 L923.0,77.2Z" fill="#fff" stroke="#474747" stroke-width="0.9"/>
<ellipse cx="921.0" cy="80.0" rx="2.0" ry="1.8" fill="none" stroke="#474747" stroke-width="0.9"/>
<rect x="925" y="147" width="9" height="9" rx="1" fill="#fff" stroke="#474747" stroke-width="1"/>
<path d="M925.0,151.0 L934.0,151.0" fill="none" stroke="#555" stroke-width="0.8" stroke-linejoin="round"/>
<path d="M806.0,252.0C807.5,250.5 809.3,246.0 815.0,243.0C820.7,240.0 830.8,236.3 840.0,234.0C849.2,231.7 860.0,230.5 870.0,229.0C880.0,227.5 892.7,226.7 900.0,225.0C907.3,223.3 910.5,222.3 914.0,219.0C917.5,215.7 919.7,211.5 921.0,205.0C922.3,198.5 921.8,188.8 922.0,180.0C922.2,171.2 921.2,159.3 922.0,152.0C922.8,144.7 924.0,140.0 927.0,136.0C930.0,132.0 934.8,129.2 940.0,128.0C945.2,126.8 952.7,128.2 958.0,129.0C963.3,129.8 969.7,132.3 972.0,133.0" fill="none" stroke="#5a5a5a" stroke-width="9.8" stroke-linecap="butt" stroke-linejoin="round"/>
<path d="M806.0,252.0C807.5,250.5 809.3,246.0 815.0,243.0C820.7,240.0 830.8,236.3 840.0,234.0C849.2,231.7 860.0,230.5 870.0,229.0C880.0,227.5 892.7,226.7 900.0,225.0C907.3,223.3 910.5,222.3 914.0,219.0C917.5,215.7 919.7,211.5 921.0,205.0C922.3,198.5 921.8,188.8 922.0,180.0C922.2,171.2 921.2,159.3 922.0,152.0C922.8,144.7 924.0,140.0 927.0,136.0C930.0,132.0 934.8,129.2 940.0,128.0C945.2,126.8 952.7,128.2 958.0,129.0C963.3,129.8 969.7,132.3 972.0,133.0" fill="none" stroke="#fff" stroke-width="8.0" stroke-linecap="butt" stroke-linejoin="round"/>
<path d="M806.0,262.0C808.3,260.3 813.5,255.2 820.0,252.0C826.5,248.8 835.8,245.3 845.0,243.0C854.2,240.7 865.0,239.2 875.0,238.0C885.0,236.8 900.0,236.3 905.0,236.0" fill="none" stroke="#5a5a5a" stroke-width="7.8" stroke-linecap="butt" stroke-linejoin="round"/>
<path d="M806.0,262.0C808.3,260.3 813.5,255.2 820.0,252.0C826.5,248.8 835.8,245.3 845.0,243.0C854.2,240.7 865.0,239.2 875.0,238.0C885.0,236.8 900.0,236.3 905.0,236.0" fill="none" stroke="#fff" stroke-width="6.0" stroke-linecap="butt" stroke-linejoin="round"/>
<path d="M978.0,135.8 L972.8,133.4 L972.8,128.6 L978.0,126.2 L983.2,128.6 L983.2,133.4Z" fill="#fff" stroke="#474747" stroke-width="0.9"/>
<ellipse cx="978.0" cy="131.0" rx="3.0" ry="2.7" fill="none" stroke="#474747" stroke-width="0.9"/>
<path d="M984.6,146.6 L980.0,149.7 L974.4,148.1 L973.4,143.4 L978.0,140.3 L983.6,141.9Z" fill="#fff" stroke="#474747" stroke-width="0.9"/>
<ellipse cx="979.0" cy="145.0" rx="3.0" ry="2.7" fill="none" stroke="#474747" stroke-width="0.9"/>
<path d="M985.6,174.6 L981.0,177.7 L975.4,176.1 L974.4,171.4 L979.0,168.3 L984.6,169.9Z" fill="#fff" stroke="#474747" stroke-width="0.9"/>
<ellipse cx="980.0" cy="173.0" rx="3.0" ry="2.7" fill="none" stroke="#474747" stroke-width="0.9"/>
<g transform="translate(971.0,190.0) rotate(30.0)"><rect x="-8.0" y="-5.0" width="16.0" height="10.0" rx="1.5" fill="#fff" stroke="#474747" stroke-width="0.9"/><line x1="-2.7" y1="-5.0" x2="-2.7" y2="5.0" stroke="#474747" stroke-width="0.9"/><line x1="2.7" y1="-5.0" x2="2.7" y2="5.0" stroke="#474747" stroke-width="0.9"/><ellipse cx="-8.0" cy="0" rx="2.2" ry="5.0" fill="#fff" stroke="#474747" stroke-width="0.9"/><ellipse cx="-8.0" cy="0" rx="1.0" ry="2.5" fill="none" stroke="#474747" stroke-width="0.72"/></g>
<g transform="translate(957.0,199.0) rotate(30.0)"><rect x="-8.0" y="-5.0" width="16.0" height="10.0" rx="1.5" fill="#fff" stroke="#474747" stroke-width="0.9"/><line x1="-2.7" y1="-5.0" x2="-2.7" y2="5.0" stroke="#474747" stroke-width="0.9"/><line x1="2.7" y1="-5.0" x2="2.7" y2="5.0" stroke="#474747" stroke-width="0.9"/><ellipse cx="-8.0" cy="0" rx="2.2" ry="5.0" fill="#fff" stroke="#474747" stroke-width="0.9"/><ellipse cx="-8.0" cy="0" rx="1.0" ry="2.5" fill="none" stroke="#474747" stroke-width="0.72"/></g>
<path d="M1017.2,79.4 L1012.0,81.8 L1006.8,79.4 L1006.8,74.6 L1012.0,72.2 L1017.2,74.6Z" fill="#fff" stroke="#474747" stroke-width="0.9"/>
<ellipse cx="1012.0" cy="77.0" rx="3.0" ry="2.7" fill="none" stroke="#474747" stroke-width="0.9"/>
<path d="M1017.0,80.0 L1040.0,90.0 L1044.0,96.0 L1045.0,125.0" fill="none" stroke="#555" stroke-width="1.0" stroke-linejoin="round"/>
<path d="M1017.0,84.0 L1038.0,94.0 L1041.0,98.0 L1041.0,125.0" fill="none" stroke="#555" stroke-width="1.0" stroke-linejoin="round"/>
<path d="M1030.0,84.0 L1049.0,76.0 L1095.0,118.0 L1080.0,129.0 L1047.0,112.0" fill="none" stroke="#555" stroke-width="0.9" stroke-linejoin="round"/>
<path d="M1058,99 L1068,94 L1082,101 L1082,113 L1072,118 L1058,111 Z" fill="#fff" stroke="#474747" stroke-width="1"/>
<path d="M1058.0,99.0 L1072.0,106.0 L1082.0,101.0" fill="none" stroke="#555" stroke-width="0.9" stroke-linejoin="round"/>
<path d="M1072.0,106.0 L1072.0,118.0" fill="none" stroke="#555" stroke-width="0.9" stroke-linejoin="round"/>
<path d="M1082,103 L1087,105 L1087,112 L1082,113 Z" fill="#fff" stroke="#474747" stroke-width="1"/>
<ellipse cx="1087" cy="108.5" rx="2.5" ry="3.5" fill="#fff" stroke="#474747" stroke-width="0.9"/>
<path d="M1065.0,49.0 L1065.0,97.0" fill="none" stroke="#555" stroke-width="1.0" stroke-linejoin="round"/>
<path d="M1069.0,49.0 L1069.0,96.0" fill="none" stroke="#555" stroke-width="1.0" stroke-linejoin="round"/>
<ellipse cx="1056" cy="97" rx="2.5" ry="3.5" fill="#fff" stroke="#474747" stroke-width="0.9"/>
<path d="M1028.0,130.0C1030.8,130.5 1039.3,131.2 1045.0,133.0C1050.7,134.8 1056.8,138.0 1062.0,141.0C1067.2,144.0 1072.2,147.7 1076.0,151.0C1079.8,154.3 1083.5,158.2 1085.0,161.0C1086.5,163.8 1086.3,166.7 1085.0,168.0C1083.7,169.3 1080.5,170.2 1077.0,169.0C1073.5,167.8 1068.8,164.2 1064.0,161.0C1059.2,157.8 1053.0,153.2 1048.0,150.0C1043.0,146.8 1036.3,143.3 1034.0,142.0" fill="none" stroke="#5a5a5a" stroke-width="7.8" stroke-linecap="butt" stroke-linejoin="round"/>
<path d="M1028.0,130.0C1030.8,130.5 1039.3,131.2 1045.0,133.0C1050.7,134.8 1056.8,138.0 1062.0,141.0C1067.2,144.0 1072.2,147.7 1076.0,151.0C1079.8,154.3 1083.5,158.2 1085.0,161.0C1086.5,163.8 1086.3,166.7 1085.0,168.0C1083.7,169.3 1080.5,170.2 1077.0,169.0C1073.5,167.8 1068.8,164.2 1064.0,161.0C1059.2,157.8 1053.0,153.2 1048.0,150.0C1043.0,146.8 1036.3,143.3 1034.0,142.0" fill="none" stroke="#fff" stroke-width="6.0" stroke-linecap="butt" stroke-linejoin="round"/>
<path d="M1040,124 L1050,124 L1051,135 L1040,135 Z" fill="#fff" stroke="#474747" stroke-width="1"/>
<g transform="translate(1020.0,131.0) rotate(80.0)"><rect x="-7.0" y="-3.5" width="14.0" height="7.0" rx="1.5" fill="#fff" stroke="#474747" stroke-width="0.9"/><line x1="-2.3" y1="-3.5" x2="-2.3" y2="3.5" stroke="#474747" stroke-width="0.9"/><line x1="2.3" y1="-3.5" x2="2.3" y2="3.5" stroke="#474747" stroke-width="0.9"/><ellipse cx="-7.0" cy="0" rx="1.5" ry="3.5" fill="#fff" stroke="#474747" stroke-width="0.9"/><ellipse cx="-7.0" cy="0" rx="0.7" ry="1.8" fill="none" stroke="#474747" stroke-width="0.72"/></g>
<path d="M1016,124 Q1020,118 1026,122 L1024,128 Z" fill="#fff" stroke="#474747" stroke-width="1"/>
<path d="M1020.0,140.0 L1020.0,178.0" fill="none" stroke="#555" stroke-width="0.8" stroke-linejoin="round"/>
<path d="M984.0,142.0 L998.0,137.0 L1006.0,145.0 L1014.0,159.0" fill="none" stroke="#555" stroke-width="0.9" stroke-linejoin="round"/>
<path d="M984.0,147.0 L996.0,142.0 L1003.0,149.0 L1010.0,161.0" fill="none" stroke="#555" stroke-width="0.9" stroke-linejoin="round"/>
<path d="M1000.0,150.0C1001.7,152.0 1007.0,158.3 1010.0,162.0C1013.0,165.7 1014.7,168.5 1018.0,172.0C1021.3,175.5 1028.0,181.2 1030.0,183.0" fill="none" stroke="#5a5a5a" stroke-width="9.8" stroke-linecap="butt" stroke-linejoin="round"/>
<path d="M1000.0,150.0C1001.7,152.0 1007.0,158.3 1010.0,162.0C1013.0,165.7 1014.7,168.5 1018.0,172.0C1021.3,175.5 1028.0,181.2 1030.0,183.0" fill="none" stroke="#fff" stroke-width="8.0" stroke-linecap="butt" stroke-linejoin="round"/>
<path d="M986.0,172.0C988.3,172.3 994.3,172.3 1000.0,174.0C1005.7,175.7 1013.3,179.3 1020.0,182.0C1026.7,184.7 1031.0,187.0 1040.0,190.0C1049.0,193.0 1061.5,196.5 1074.0,200.0C1086.5,203.5 1103.5,207.8 1115.0,211.0C1126.5,214.2 1135.8,216.2 1143.0,219.0C1150.2,221.8 1154.5,223.8 1158.0,228.0C1161.5,232.2 1163.8,238.2 1164.0,244.0C1164.2,249.8 1162.5,257.5 1159.0,263.0C1155.5,268.5 1149.3,271.8 1143.0,277.0C1136.7,282.2 1127.0,289.7 1121.0,294.0C1115.0,298.3 1110.5,300.3 1107.0,303.0C1103.5,305.7 1101.2,308.8 1100.0,310.0" fill="none" stroke="#5a5a5a" stroke-width="19.6" stroke-linecap="butt" stroke-linejoin="round"/>
<path d="M986.0,172.0C988.3,172.3 994.3,172.3 1000.0,174.0C1005.7,175.7 1013.3,179.3 1020.0,182.0C1026.7,184.7 1031.0,187.0 1040.0,190.0C1049.0,193.0 1061.5,196.5 1074.0,200.0C1086.5,203.5 1103.5,207.8 1115.0,211.0C1126.5,214.2 1135.8,216.2 1143.0,219.0C1150.2,221.8 1154.5,223.8 1158.0,228.0C1161.5,232.2 1163.8,238.2 1164.0,244.0C1164.2,249.8 1162.5,257.5 1159.0,263.0C1155.5,268.5 1149.3,271.8 1143.0,277.0C1136.7,282.2 1127.0,289.7 1121.0,294.0C1115.0,298.3 1110.5,300.3 1107.0,303.0C1103.5,305.7 1101.2,308.8 1100.0,310.0" fill="none" stroke="#fff" stroke-width="17.8" stroke-linecap="butt" stroke-linejoin="round"/>
<path d="M986.0,172.0C988.3,172.3 994.3,172.3 1000.0,174.0C1005.7,175.7 1013.3,179.3 1020.0,182.0C1026.7,184.7 1031.0,187.0 1040.0,190.0C1049.0,193.0 1061.5,196.5 1074.0,200.0C1086.5,203.5 1103.5,207.8 1115.0,211.0C1126.5,214.2 1135.8,216.2 1143.0,219.0C1150.2,221.8 1154.5,223.8 1158.0,228.0C1161.5,232.2 1163.8,238.2 1164.0,244.0C1164.2,249.8 1162.5,257.5 1159.0,263.0C1155.5,268.5 1149.3,271.8 1143.0,277.0C1136.7,282.2 1127.0,289.7 1121.0,294.0C1115.0,298.3 1110.5,300.3 1107.0,303.0C1103.5,305.7 1101.2,308.8 1100.0,310.0" fill="none" stroke="#5a5a5a" stroke-width="3.8" stroke-linecap="butt" stroke-linejoin="round"/>
<path d="M986.0,172.0C988.3,172.3 994.3,172.3 1000.0,174.0C1005.7,175.7 1013.3,179.3 1020.0,182.0C1026.7,184.7 1031.0,187.0 1040.0,190.0C1049.0,193.0 1061.5,196.5 1074.0,200.0C1086.5,203.5 1103.5,207.8 1115.0,211.0C1126.5,214.2 1135.8,216.2 1143.0,219.0C1150.2,221.8 1154.5,223.8 1158.0,228.0C1161.5,232.2 1163.8,238.2 1164.0,244.0C1164.2,249.8 1162.5,257.5 1159.0,263.0C1155.5,268.5 1149.3,271.8 1143.0,277.0C1136.7,282.2 1127.0,289.7 1121.0,294.0C1115.0,298.3 1110.5,300.3 1107.0,303.0C1103.5,305.7 1101.2,308.8 1100.0,310.0" fill="none" stroke="#fff" stroke-width="2.0" stroke-linecap="butt" stroke-linejoin="round"/>
<path d="M1140.0,213.0C1138.0,215.5 1130.3,222.7 1128.0,228.0C1125.7,233.3 1125.3,241.0 1126.0,245.0C1126.7,249.0 1129.7,252.0 1132.0,252.0C1134.3,252.0 1138.3,249.0 1140.0,245.0C1141.7,241.0 1141.7,230.8 1142.0,228.0" fill="none" stroke="#555" stroke-width="1.0" stroke-linejoin="round"/>
<path d="M1145.0,215.0C1143.0,217.5 1135.3,224.5 1133.0,230.0C1130.7,235.5 1130.2,243.7 1131.0,248.0C1131.8,252.3 1135.3,256.0 1138.0,256.0C1140.7,256.0 1145.5,249.3 1147.0,248.0" fill="none" stroke="#555" stroke-width="1.0" stroke-linejoin="round"/>
<path d="M1103.2,314.4 L1098.0,316.8 L1092.8,314.4 L1092.8,309.6 L1098.0,307.2 L1103.2,309.6Z" fill="#fff" stroke="#474747" stroke-width="0.9"/>
<ellipse cx="1098.0" cy="312.0" rx="3.0" ry="2.7" fill="none" stroke="#474747" stroke-width="0.9"/>
<path d="M1101.2,326.4 L1096.0,328.8 L1090.8,326.4 L1090.8,321.6 L1096.0,319.2 L1101.2,321.6Z" fill="#fff" stroke="#474747" stroke-width="0.9"/>
<ellipse cx="1096.0" cy="324.0" rx="3.0" ry="2.7" fill="none" stroke="#474747" stroke-width="0.9"/>
<path d="M985.0,205.0C987.5,205.5 994.5,206.5 1000.0,208.0C1005.5,209.5 1011.7,210.7 1018.0,214.0C1024.3,217.3 1032.3,222.3 1038.0,228.0C1043.7,233.7 1048.0,240.2 1052.0,248.0C1056.0,255.8 1060.0,265.5 1062.0,275.0C1064.0,284.5 1064.7,295.8 1064.0,305.0C1063.3,314.2 1061.3,322.8 1058.0,330.0C1054.7,337.2 1049.3,342.7 1044.0,348.0C1038.7,353.3 1031.3,357.0 1026.0,362.0C1020.7,367.0 1015.7,372.3 1012.0,378.0C1008.3,383.7 1005.3,393.0 1004.0,396.0" fill="none" stroke="#5a5a5a" stroke-width="19.6" stroke-linecap="butt" stroke-linejoin="round"/>
<path d="M985.0,205.0C987.5,205.5 994.5,206.5 1000.0,208.0C1005.5,209.5 1011.7,210.7 1018.0,214.0C1024.3,217.3 1032.3,222.3 1038.0,228.0C1043.7,233.7 1048.0,240.2 1052.0,248.0C1056.0,255.8 1060.0,265.5 1062.0,275.0C1064.0,284.5 1064.7,295.8 1064.0,305.0C1063.3,314.2 1061.3,322.8 1058.0,330.0C1054.7,337.2 1049.3,342.7 1044.0,348.0C1038.7,353.3 1031.3,357.0 1026.0,362.0C1020.7,367.0 1015.7,372.3 1012.0,378.0C1008.3,383.7 1005.3,393.0 1004.0,396.0" fill="none" stroke="#fff" stroke-width="17.8" stroke-linecap="butt" stroke-linejoin="round"/>
<path d="M985.0,205.0C987.5,205.5 994.5,206.5 1000.0,208.0C1005.5,209.5 1011.7,210.7 1018.0,214.0C1024.3,217.3 1032.3,222.3 1038.0,228.0C1043.7,233.7 1048.0,240.2 1052.0,248.0C1056.0,255.8 1060.0,265.5 1062.0,275.0C1064.0,284.5 1064.7,295.8 1064.0,305.0C1063.3,314.2 1061.3,322.8 1058.0,330.0C1054.7,337.2 1049.3,342.7 1044.0,348.0C1038.7,353.3 1031.3,357.0 1026.0,362.0C1020.7,367.0 1015.7,372.3 1012.0,378.0C1008.3,383.7 1005.3,393.0 1004.0,396.0" fill="none" stroke="#5a5a5a" stroke-width="3.8" stroke-linecap="butt" stroke-linejoin="round"/>
<path d="M985.0,205.0C987.5,205.5 994.5,206.5 1000.0,208.0C1005.5,209.5 1011.7,210.7 1018.0,214.0C1024.3,217.3 1032.3,222.3 1038.0,228.0C1043.7,233.7 1048.0,240.2 1052.0,248.0C1056.0,255.8 1060.0,265.5 1062.0,275.0C1064.0,284.5 1064.7,295.8 1064.0,305.0C1063.3,314.2 1061.3,322.8 1058.0,330.0C1054.7,337.2 1049.3,342.7 1044.0,348.0C1038.7,353.3 1031.3,357.0 1026.0,362.0C1020.7,367.0 1015.7,372.3 1012.0,378.0C1008.3,383.7 1005.3,393.0 1004.0,396.0" fill="none" stroke="#fff" stroke-width="2.0" stroke-linecap="butt" stroke-linejoin="round"/>
<g transform="translate(985.0,204.0) rotate(20.0)"><rect x="-7.0" y="-4.5" width="14.0" height="9.0" rx="1.5" fill="#fff" stroke="#474747" stroke-width="0.9"/><line x1="-2.3" y1="-4.5" x2="-2.3" y2="4.5" stroke="#474747" stroke-width="0.9"/><line x1="2.3" y1="-4.5" x2="2.3" y2="4.5" stroke="#474747" stroke-width="0.9"/><ellipse cx="-7.0" cy="0" rx="2.0" ry="4.5" fill="#fff" stroke="#474747" stroke-width="0.9"/><ellipse cx="-7.0" cy="0" rx="0.9" ry="2.2" fill="none" stroke="#474747" stroke-width="0.72"/></g>
<g transform="translate(982.0,222.0) rotate(20.0)"><rect x="-7.0" y="-4.5" width="14.0" height="9.0" rx="1.5" fill="#fff" stroke="#474747" stroke-width="0.9"/><line x1="-2.3" y1="-4.5" x2="-2.3" y2="4.5" stroke="#474747" stroke-width="0.9"/><line x1="2.3" y1="-4.5" x2="2.3" y2="4.5" stroke="#474747" stroke-width="0.9"/><ellipse cx="-7.0" cy="0" rx="2.0" ry="4.5" fill="#fff" stroke="#474747" stroke-width="0.9"/><ellipse cx="-7.0" cy="0" rx="0.9" ry="2.2" fill="none" stroke="#474747" stroke-width="0.72"/></g>
<path d="M1044.0,252.0C1042.7,255.0 1036.7,264.5 1036.0,270.0C1035.3,275.5 1038.0,283.0 1040.0,285.0C1042.0,287.0 1045.8,285.8 1048.0,282.0C1050.2,278.2 1052.2,265.3 1053.0,262.0" fill="none" stroke="#555" stroke-width="1.0" stroke-linejoin="round"/>
<path d="M1050.0,250.0C1048.8,253.0 1043.7,262.5 1043.0,268.0C1042.3,273.5 1045.5,280.5 1046.0,283.0" fill="none" stroke="#555" stroke-width="1.0" stroke-linejoin="round"/>
<path d="M1058.0,262.0L1064.0,272.0" fill="none" stroke="#5a5a5a" stroke-width="5.8" stroke-linecap="butt" stroke-linejoin="round"/>
<path d="M1058.0,262.0L1064.0,272.0" fill="none" stroke="#fff" stroke-width="4.0" stroke-linecap="butt" stroke-linejoin="round"/>
<path d="M963,247 L976,240 L990,247 L990,272 L977,279 L963,272 Z" fill="#fff" stroke="#474747" stroke-width="1"/>
<path d="M963.0,247.0 L977.0,254.0 L990.0,247.0" fill="none" stroke="#555" stroke-width="0.9" stroke-linejoin="round"/>
<path d="M977.0,254.0 L977.0,279.0" fill="none" stroke="#555" stroke-width="0.9" stroke-linejoin="round"/>
<path d="M966,243 L966,240 L972,237 L972,240" fill="none" stroke="#474747" stroke-width="0.9"/>
<ellipse cx="983" cy="247" rx="2.5" ry="1.8" fill="none" stroke="#474747" stroke-width="0.8"/>
<g transform="translate(997.0,263.0) rotate(20.0)"><rect x="-8.0" y="-5.5" width="16.0" height="11.0" rx="1.5" fill="#fff" stroke="#474747" stroke-width="0.9"/><ellipse cx="-8.0" cy="0" rx="2.4" ry="5.5" fill="#fff" stroke="#474747" stroke-width="0.9"/><ellipse cx="-8.0" cy="0" rx="1.1" ry="2.8" fill="none" stroke="#474747" stroke-width="0.72"/></g>
<ellipse cx="1005" cy="266" rx="3.5" ry="5" fill="#fff" stroke="#474747" stroke-width="1"/>
<ellipse cx="1005" cy="266" rx="1.5" ry="2.2" fill="none" stroke="#474747" stroke-width="0.8"/>
<path d="M940,262 L951,257 L951,285 L940,291 Z" fill="#fff" stroke="#474747" stroke-width="1"/>
<path d="M920,274 L940,268 L940,282 L924,288 Q918,289 919,282 Z" fill="#fff" stroke="#474747" stroke-width="1"/>
<ellipse cx="923.0" cy="282.0" rx="1.3" ry="1.3" transform="rotate(0 923.0 282.0)" fill="none" stroke="#474747" stroke-width="0.9"/>
<ellipse cx="944.0" cy="283.0" rx="1.2" ry="1.2" transform="rotate(0 944.0 283.0)" fill="none" stroke="#474747" stroke-width="0.9"/>
<ellipse cx="944.0" cy="266.0" rx="1.2" ry="1.2" transform="rotate(0 944.0 266.0)" fill="none" stroke="#474747" stroke-width="0.9"/>
<path d="M939.5,276.0 L938.2,277.7 L935.8,277.7 L934.5,276.0 L935.8,274.3 L938.2,274.3Z" fill="#fff" stroke="#474747" stroke-width="0.9"/>
<ellipse cx="937.0" cy="276.0" rx="1.2" ry="1.1" fill="none" stroke="#474747" stroke-width="0.9"/>
<g transform="translate(1055,217) rotate(-25)"><rect x="-10" y="-1.3" width="18" height="2.6" fill="#fff" stroke="#474747" stroke-width="0.8"/><rect x="8" y="-3" width="3" height="6" fill="#fff" stroke="#474747" stroke-width="0.8"/></g>
<g transform="translate(1055,197) rotate(-25)"><rect x="-10" y="-1.3" width="18" height="2.6" fill="#fff" stroke="#474747" stroke-width="0.8"/><rect x="8" y="-3" width="3" height="6" fill="#fff" stroke="#474747" stroke-width="0.8"/></g>
<g transform="translate(934.0,236.0) rotate(25.0)"><rect x="-7.0" y="-4.0" width="14.0" height="8.0" rx="1.5" fill="#fff" stroke="#474747" stroke-width="0.9"/><line x1="-3.5" y1="-4.0" x2="-3.5" y2="4.0" stroke="#474747" stroke-width="0.9"/><line x1="0.0" y1="-4.0" x2="0.0" y2="4.0" stroke="#474747" stroke-width="0.9"/><line x1="3.5" y1="-4.0" x2="3.5" y2="4.0" stroke="#474747" stroke-width="0.9"/><ellipse cx="-7.0" cy="0" rx="1.8" ry="4.0" fill="#fff" stroke="#474747" stroke-width="0.9"/><ellipse cx="-7.0" cy="0" rx="0.8" ry="2.0" fill="none" stroke="#474747" stroke-width="0.72"/></g>
<ellipse cx="946.0" cy="243.0" rx="2" ry="2.5" transform="rotate(0 946.0 243.0)" fill="none" stroke="#474747" stroke-width="0.9"/>
<g transform="translate(876.0,199.0) rotate(-20.0)"><rect x="-8.0" y="-5.0" width="16.0" height="10.0" rx="1.5" fill="#fff" stroke="#474747" stroke-width="0.9"/><line x1="-2.7" y1="-5.0" x2="-2.7" y2="5.0" stroke="#474747" stroke-width="0.9"/><line x1="2.7" y1="-5.0" x2="2.7" y2="5.0" stroke="#474747" stroke-width="0.9"/><ellipse cx="-8.0" cy="0" rx="2.2" ry="5.0" fill="#fff" stroke="#474747" stroke-width="0.9"/><ellipse cx="-8.0" cy="0" rx="1.0" ry="2.5" fill="none" stroke="#474747" stroke-width="0.72"/></g>
<path d="M880,193 L892,189 L894,200 L884,204 Z" fill="#fff" stroke="#474747" stroke-width="1"/>
<ellipse cx="889" cy="200" rx="4" ry="4.5" fill="#fff" stroke="#474747" stroke-width="1"/>
<ellipse cx="889" cy="200" rx="2" ry="2.2" fill="none" stroke="#474747" stroke-width="0.8"/>
<ellipse cx="860.0" cy="210.0" rx="3" ry="3.5" transform="rotate(0 860.0 210.0)" fill="none" stroke="#474747" stroke-width="0.9"/>
<ellipse cx="898.0" cy="215.0" rx="1.8" ry="2.2" transform="rotate(0 898.0 215.0)" fill="none" stroke="#474747" stroke-width="0.9"/>
<ellipse cx="899.0" cy="186.0" rx="1.8" ry="2.2" transform="rotate(0 899.0 186.0)" fill="none" stroke="#474747" stroke-width="0.9"/>
<path d="M898.0,218.0 L914.0,226.0 L926.0,230.0" fill="none" stroke="#555" stroke-width="0.8" stroke-linejoin="round"/>
<g transform="translate(940.0,313.0) rotate(25.0)"><rect x="-7.0" y="-4.5" width="14.0" height="9.0" rx="1.5" fill="#fff" stroke="#474747" stroke-width="0.9"/><line x1="-2.3" y1="-4.5" x2="-2.3" y2="4.5" stroke="#474747" stroke-width="0.9"/><line x1="2.3" y1="-4.5" x2="2.3" y2="4.5" stroke="#474747" stroke-width="0.9"/><ellipse cx="-7.0" cy="0" rx="2.0" ry="4.5" fill="#fff" stroke="#474747" stroke-width="0.9"/><ellipse cx="-7.0" cy="0" rx="0.9" ry="2.2" fill="none" stroke="#474747" stroke-width="0.72"/></g>
<path d="M930.0,307.0C928.3,308.3 922.8,311.2 920.0,315.0C917.2,318.8 913.8,325.0 913.0,330.0C912.2,335.0 913.0,340.3 915.0,345.0C917.0,349.7 920.8,354.5 925.0,358.0C929.2,361.5 935.0,364.3 940.0,366.0C945.0,367.7 952.5,367.7 955.0,368.0" fill="none" stroke="#5a5a5a" stroke-width="9.8" stroke-linecap="butt" stroke-linejoin="round"/>
<path d="M930.0,307.0C928.3,308.3 922.8,311.2 920.0,315.0C917.2,318.8 913.8,325.0 913.0,330.0C912.2,335.0 913.0,340.3 915.0,345.0C917.0,349.7 920.8,354.5 925.0,358.0C929.2,361.5 935.0,364.3 940.0,366.0C945.0,367.7 952.5,367.7 955.0,368.0" fill="none" stroke="#fff" stroke-width="8.0" stroke-linecap="butt" stroke-linejoin="round"/>
<ellipse cx="932.0" cy="301.0" rx="2" ry="2.5" transform="rotate(0 932.0 301.0)" fill="none" stroke="#474747" stroke-width="0.9"/>
<ellipse cx="917.0" cy="297.0" rx="2.5" ry="2.5" transform="rotate(0 917.0 297.0)" fill="none" stroke="#474747" stroke-width="0.9"/>
<ellipse cx="970.0" cy="322.0" rx="1.8" ry="2.2" transform="rotate(0 970.0 322.0)" fill="none" stroke="#474747" stroke-width="0.9"/>
<g transform="translate(965.0,376.0) rotate(25.0)"><rect x="-10.0" y="-5.0" width="20.0" height="10.0" rx="1.5" fill="#fff" stroke="#474747" stroke-width="0.9"/><line x1="-5.0" y1="-5.0" x2="-5.0" y2="5.0" stroke="#474747" stroke-width="0.9"/><line x1="0.0" y1="-5.0" x2="0.0" y2="5.0" stroke="#474747" stroke-width="0.9"/><line x1="5.0" y1="-5.0" x2="5.0" y2="5.0" stroke="#474747" stroke-width="0.9"/><ellipse cx="-10.0" cy="0" rx="2.2" ry="5.0" fill="#fff" stroke="#474747" stroke-width="0.9"/><ellipse cx="-10.0" cy="0" rx="1.0" ry="2.5" fill="none" stroke="#474747" stroke-width="0.72"/></g>
<g transform="translate(976.0,372.0) rotate(-70.0)"><rect x="-5.0" y="-3.5" width="10.0" height="7.0" rx="1.5" fill="#fff" stroke="#474747" stroke-width="0.9"/><line x1="0.0" y1="-3.5" x2="0.0" y2="3.5" stroke="#474747" stroke-width="0.9"/><ellipse cx="-5.0" cy="0" rx="1.5" ry="3.5" fill="#fff" stroke="#474747" stroke-width="0.9"/><ellipse cx="-5.0" cy="0" rx="0.7" ry="1.8" fill="none" stroke="#474747" stroke-width="0.72"/></g>
<ellipse cx="977.0" cy="359.0" rx="3" ry="2" transform="rotate(0 977.0 359.0)" fill="none" stroke="#474747" stroke-width="0.9"/>
<ellipse cx="993.0" cy="396.0" rx="2" ry="2.5" transform="rotate(0 993.0 396.0)" fill="none" stroke="#474747" stroke-width="0.9"/>
<path d="M982,452 L992,452 L992,460 Q992,468 984,470 L976,470 Q974,462 976,456 Z" fill="#fff" stroke="#474747" stroke-width="1"/>
<g transform="translate(990.0,465.0) rotate(20.0)"><rect x="-6.0" y="-4.5" width="12.0" height="9.0" rx="1.5" fill="#fff" stroke="#474747" stroke-width="0.9"/><line x1="-2.0" y1="-4.5" x2="-2.0" y2="4.5" stroke="#474747" stroke-width="0.9"/><line x1="2.0" y1="-4.5" x2="2.0" y2="4.5" stroke="#474747" stroke-width="0.9"/><ellipse cx="-6.0" cy="0" rx="2.0" ry="4.5" fill="#fff" stroke="#474747" stroke-width="0.9"/><ellipse cx="-6.0" cy="0" rx="0.9" ry="2.2" fill="none" stroke="#474747" stroke-width="0.72"/></g>
<ellipse cx="1000.0" cy="470.0" rx="1.8" ry="3" transform="rotate(0 1000.0 470.0)" fill="none" stroke="#474747" stroke-width="0.9"/>
<ellipse cx="1005.0" cy="473.0" rx="1.8" ry="3" transform="rotate(0 1005.0 473.0)" fill="none" stroke="#474747" stroke-width="0.9"/>
<ellipse cx="988.0" cy="444.0" rx="2.5" ry="1.5" transform="rotate(0 988.0 444.0)" fill="none" stroke="#474747" stroke-width="0.9"/>
<path d="M989.5,428.0 L988.0,448.0" fill="none" stroke="#555" stroke-width="0.8" stroke-linejoin="round"/>
<g transform="translate(1003.0,401.0) rotate(-62.0)"><rect x="-7.0" y="-4.0" width="14.0" height="8.0" rx="1.5" fill="#fff" stroke="#474747" stroke-width="0.9"/><line x1="-2.3" y1="-4.0" x2="-2.3" y2="4.0" stroke="#474747" stroke-width="0.9"/><line x1="2.3" y1="-4.0" x2="2.3" y2="4.0" stroke="#474747" stroke-width="0.9"/><ellipse cx="-7.0" cy="0" rx="1.8" ry="4.0" fill="#fff" stroke="#474747" stroke-width="0.9"/><ellipse cx="-7.0" cy="0" rx="0.8" ry="2.0" fill="none" stroke="#474747" stroke-width="0.72"/></g>
<g transform="translate(998.0,411.0) rotate(-62.0)"><rect x="-4.0" y="-3.5" width="8.0" height="7.0" rx="1.5" fill="#fff" stroke="#474747" stroke-width="0.9"/><line x1="0.0" y1="-3.5" x2="0.0" y2="3.5" stroke="#474747" stroke-width="0.9"/><ellipse cx="-4.0" cy="0" rx="1.5" ry="3.5" fill="#fff" stroke="#474747" stroke-width="0.9"/><ellipse cx="-4.0" cy="0" rx="0.7" ry="1.8" fill="none" stroke="#474747" stroke-width="0.72"/></g>
<path d="M977.0,240.0 L977.0,360.0" fill="none" stroke="#555" stroke-width="0.9" stroke-dasharray="14 3 3 3" stroke-linejoin="round"/>
<path d="M754.0,309.0 L879.0,390.0 L981.0,332.0" fill="none" stroke="#555" stroke-width="0.9" stroke-dasharray="14 3 3 3" stroke-linejoin="round"/>
<path d="M739.0,353.0 L782.0,333.0" fill="none" stroke="#555" stroke-width="0.9" stroke-dasharray="14 3 3 3" stroke-linejoin="round"/>
<path d="M782.0,333.0 L808.0,340.0 L783.0,355.0" fill="none" stroke="#555" stroke-width="0.9" stroke-linejoin="round"/>
<g transform="translate(768,364) rotate(-28)"><rect x="-14" y="-2.5" width="30" height="5" fill="#fff" stroke="#474747" stroke-width="0.9"/><ellipse cx="-15" cy="0" rx="2.5" ry="4.5" fill="#fff" stroke="#474747" stroke-width="0.9"/></g>
<path d="M1000.0,390.0 L985.0,405.0 L960.0,425.0" fill="none" stroke="#555" stroke-width="0.9" stroke-dasharray="14 3 3 3" stroke-linejoin="round"/>
<path d="M441,864 L452,868 L451,876 L440,872 Z" fill="#fff" stroke="#474747" stroke-width="1"/>
<path d="M440,872 Q436,880 437,896 L446,897 Q446,884 451,876 Z" fill="#fff" stroke="#474747" stroke-width="1"/>
<rect x="437" y="894" width="9" height="8" rx="2" fill="#fff" stroke="#474747" stroke-width="1"/>
<path d="M441.0,868.0 L452.0,872.0" fill="none" stroke="#555" stroke-width="0.8" stroke-linejoin="round"/>
<path d="M463,877 L475,880 L474,891 L462,888 Z" fill="#fff" stroke="#474747" stroke-width="1"/>
<path d="M462,888 L474,891 L473,912 Q468,917 462,912 Z" fill="#fff" stroke="#474747" stroke-width="1"/>
<path d="M462.0,894.0 L474.0,896.0" fill="none" stroke="#555" stroke-width="0.8" stroke-linejoin="round"/>
<path d="M462.0,907.0 L473.0,909.0" fill="none" stroke="#555" stroke-width="0.8" stroke-linejoin="round"/>
<ellipse cx="441.5" cy="911" rx="4" ry="2.5" fill="none" stroke="#474747" stroke-width="1"/>
<path d="M442.3,914.0 L442.3,944.0" fill="none" stroke="#555" stroke-width="0.9" stroke-linejoin="round"/>
<path d="M467.0,917.0 L467.0,942.0" fill="none" stroke="#555" stroke-width="0.9" stroke-linejoin="round"/>
<path d="M417,955 L440,938 L470,935 L482,945 L486,965 L500,975 L505,995 L495,1008 L470,1011 L440,1005 L425,995 L418,975 Z" fill="#fff" stroke="#555" stroke-width="0.9" stroke-dasharray="4 1.5"/>
<path d="M404,940 L420,933 L432,938 L434,955 L420,963 L406,958 Z" fill="#fff" stroke="#474747" stroke-width="1"/>
<path d="M408,948 L424,956 M408,951 L424,959 M408,954 L422,961 M408,945 L424,953" stroke="#555" stroke-width="0.8"/>
<ellipse cx="442" cy="947" rx="7" ry="4" fill="#fff" stroke="#474747" stroke-width="1"/>
<ellipse cx="442" cy="947" rx="3.9" ry="2.2" fill="none" stroke="#474747" stroke-width="0.8"/>
<ellipse cx="459" cy="945" rx="7" ry="4" fill="#fff" stroke="#474747" stroke-width="1"/>
<ellipse cx="459" cy="945" rx="3.9" ry="2.2" fill="none" stroke="#474747" stroke-width="0.8"/>
<ellipse cx="442" cy="963" rx="8" ry="4.5" fill="#fff" stroke="#474747" stroke-width="1"/>
<ellipse cx="442" cy="963" rx="4.4" ry="2.5" fill="none" stroke="#474747" stroke-width="0.8"/>
<ellipse cx="467" cy="962" rx="6" ry="4" fill="#fff" stroke="#474747" stroke-width="1"/>
<ellipse cx="467" cy="962" rx="3.3" ry="2.2" fill="none" stroke="#474747" stroke-width="0.8"/>
<ellipse cx="454" cy="955" rx="3.5" ry="3" fill="#fff" stroke="#474747" stroke-width="1"/>
<ellipse cx="454" cy="955" rx="1.9" ry="1.7" fill="none" stroke="#474747" stroke-width="0.8"/>
<ellipse cx="430" cy="975" rx="5" ry="6" fill="#fff" stroke="#474747" stroke-width="1"/>
<ellipse cx="430" cy="975" rx="2.5" ry="3" fill="none" stroke="#474747" stroke-width="0.8"/>
<ellipse cx="430" cy="991" rx="5" ry="6" fill="#fff" stroke="#474747" stroke-width="1"/>
<ellipse cx="430" cy="991" rx="2.5" ry="3" fill="none" stroke="#474747" stroke-width="0.8"/>
<rect x="445" y="985" width="9" height="22" rx="3" fill="#fff" stroke="#474747" stroke-width="1"/>
<path d="M462,985 L490,972 L505,980 L506,998 L480,1008 L463,1000 Z" fill="#fff" stroke="#474747" stroke-width="1"/>
<path d="M470,990 L497,978 M471,993 L498,981 M472,996 L499,984 M473,999 L500,987" stroke="#555" stroke-width="0.8"/>
<ellipse cx="504" cy="992" rx="3.5" ry="5" fill="#fff" stroke="#474747" stroke-width="1"/>
<ellipse cx="464" cy="992" rx="3.5" ry="6" fill="#fff" stroke="#474747" stroke-width="1"/>
<path d="M1100.0,313.0C1093.3,319.5 1070.0,341.2 1060.0,352.0C1050.0,362.8 1050.0,367.7 1040.0,378.0C1030.0,388.3 1015.0,400.3 1000.0,414.0C985.0,427.7 966.7,444.8 950.0,460.0C933.3,475.2 915.5,491.0 900.0,505.0C884.5,519.0 866.3,535.8 857.0,544.0C847.7,552.2 853.5,546.0 844.0,554.0C834.5,562.0 814.0,579.5 800.0,592.0C786.0,604.5 771.7,618.2 760.0,629.0C748.3,639.8 740.0,647.7 730.0,657.0C720.0,666.3 709.2,676.2 700.0,685.0C690.8,693.8 683.0,702.0 675.0,710.0C667.0,718.0 659.2,726.5 652.0,733.0C644.8,739.5 638.7,745.2 632.0,749.0C625.3,752.8 618.7,755.0 612.0,756.0C605.3,757.0 598.7,756.7 592.0,755.0C585.3,753.3 580.3,750.2 572.0,746.0C563.7,741.8 552.0,735.5 542.0,730.0C532.0,724.5 521.3,718.0 512.0,713.0C502.7,708.0 490.3,702.2 486.0,700.0" fill="none" stroke="#5a5a5a" stroke-width="11.6" stroke-linecap="butt" stroke-linejoin="round"/>
<path d="M1100.0,313.0C1093.3,319.5 1070.0,341.2 1060.0,352.0C1050.0,362.8 1050.0,367.7 1040.0,378.0C1030.0,388.3 1015.0,400.3 1000.0,414.0C985.0,427.7 966.7,444.8 950.0,460.0C933.3,475.2 915.5,491.0 900.0,505.0C884.5,519.0 866.3,535.8 857.0,544.0C847.7,552.2 853.5,546.0 844.0,554.0C834.5,562.0 814.0,579.5 800.0,592.0C786.0,604.5 771.7,618.2 760.0,629.0C748.3,639.8 740.0,647.7 730.0,657.0C720.0,666.3 709.2,676.2 700.0,685.0C690.8,693.8 683.0,702.0 675.0,710.0C667.0,718.0 659.2,726.5 652.0,733.0C644.8,739.5 638.7,745.2 632.0,749.0C625.3,752.8 618.7,755.0 612.0,756.0C605.3,757.0 598.7,756.7 592.0,755.0C585.3,753.3 580.3,750.2 572.0,746.0C563.7,741.8 552.0,735.5 542.0,730.0C532.0,724.5 521.3,718.0 512.0,713.0C502.7,708.0 490.3,702.2 486.0,700.0" fill="none" stroke="#fff" stroke-width="9.8" stroke-linecap="butt" stroke-linejoin="round"/>
<path d="M1100.0,313.0C1093.3,319.5 1070.0,341.2 1060.0,352.0C1050.0,362.8 1050.0,367.7 1040.0,378.0C1030.0,388.3 1015.0,400.3 1000.0,414.0C985.0,427.7 966.7,444.8 950.0,460.0C933.3,475.2 915.5,491.0 900.0,505.0C884.5,519.0 866.3,535.8 857.0,544.0C847.7,552.2 853.5,546.0 844.0,554.0C834.5,562.0 814.0,579.5 800.0,592.0C786.0,604.5 771.7,618.2 760.0,629.0C748.3,639.8 740.0,647.7 730.0,657.0C720.0,666.3 709.2,676.2 700.0,685.0C690.8,693.8 683.0,702.0 675.0,710.0C667.0,718.0 659.2,726.5 652.0,733.0C644.8,739.5 638.7,745.2 632.0,749.0C625.3,752.8 618.7,755.0 612.0,756.0C605.3,757.0 598.7,756.7 592.0,755.0C585.3,753.3 580.3,750.2 572.0,746.0C563.7,741.8 552.0,735.5 542.0,730.0C532.0,724.5 521.3,718.0 512.0,713.0C502.7,708.0 490.3,702.2 486.0,700.0" fill="none" stroke="#5a5a5a" stroke-width="3.4" stroke-linecap="butt" stroke-linejoin="round"/>
<path d="M1100.0,313.0C1093.3,319.5 1070.0,341.2 1060.0,352.0C1050.0,362.8 1050.0,367.7 1040.0,378.0C1030.0,388.3 1015.0,400.3 1000.0,414.0C985.0,427.7 966.7,444.8 950.0,460.0C933.3,475.2 915.5,491.0 900.0,505.0C884.5,519.0 866.3,535.8 857.0,544.0C847.7,552.2 853.5,546.0 844.0,554.0C834.5,562.0 814.0,579.5 800.0,592.0C786.0,604.5 771.7,618.2 760.0,629.0C748.3,639.8 740.0,647.7 730.0,657.0C720.0,666.3 709.2,676.2 700.0,685.0C690.8,693.8 683.0,702.0 675.0,710.0C667.0,718.0 659.2,726.5 652.0,733.0C644.8,739.5 638.7,745.2 632.0,749.0C625.3,752.8 618.7,755.0 612.0,756.0C605.3,757.0 598.7,756.7 592.0,755.0C585.3,753.3 580.3,750.2 572.0,746.0C563.7,741.8 552.0,735.5 542.0,730.0C532.0,724.5 521.3,718.0 512.0,713.0C502.7,708.0 490.3,702.2 486.0,700.0" fill="none" stroke="#fff" stroke-width="1.6" stroke-linecap="butt" stroke-linejoin="round"/>
<path d="M1005.0,390.0 L960.0,428.0 L920.0,463.0 L880.0,498.0 L844.0,532.0" fill="none" stroke="#555" stroke-width="0.9" stroke-dasharray="14 3 3 3" stroke-linejoin="round"/>
<path d="M1014.0,392.0 L970.0,432.0 L930.0,468.0 L890.0,503.0 L856.0,535.0" fill="none" stroke="#555" stroke-width="0.9" stroke-dasharray="14 3 3 3" stroke-linejoin="round"/>
<g transform="translate(843,549) rotate(-42)"><rect x="-9" y="-9" width="18" height="18" rx="3" fill="#fff" stroke="#474747" stroke-width="1"/><line x1="0" y1="-9" x2="0" y2="9" stroke="#474747" stroke-width="0.9"/><ellipse cx="-9" cy="0" rx="3" ry="9" fill="#fff" stroke="#474747" stroke-width="0.9"/></g>
<path d="M1106.0,322.0C1098.7,328.7 1072.0,351.8 1062.0,362.0C1052.0,372.2 1055.3,373.5 1046.0,383.0C1036.7,392.5 1021.0,405.5 1006.0,419.0C991.0,432.5 972.7,449.0 956.0,464.0C939.3,479.0 920.7,495.5 906.0,509.0C891.3,522.5 877.0,536.8 868.0,545.0C859.0,553.2 857.0,554.2 852.0,558.0C847.0,561.8 842.3,564.7 838.0,568.0C833.7,571.3 828.0,576.3 826.0,578.0" fill="none" stroke="#5a5a5a" stroke-width="7.8" stroke-linecap="butt" stroke-linejoin="round"/>
<path d="M1106.0,322.0C1098.7,328.7 1072.0,351.8 1062.0,362.0C1052.0,372.2 1055.3,373.5 1046.0,383.0C1036.7,392.5 1021.0,405.5 1006.0,419.0C991.0,432.5 972.7,449.0 956.0,464.0C939.3,479.0 920.7,495.5 906.0,509.0C891.3,522.5 877.0,536.8 868.0,545.0C859.0,553.2 857.0,554.2 852.0,558.0C847.0,561.8 842.3,564.7 838.0,568.0C833.7,571.3 828.0,576.3 826.0,578.0" fill="none" stroke="#fff" stroke-width="6.0" stroke-linecap="butt" stroke-linejoin="round"/>
<g transform="translate(814.0,589.0) rotate(-42.0)"><rect x="-10.0" y="-4.0" width="20.0" height="8.0" rx="1.5" fill="#fff" stroke="#474747" stroke-width="0.9"/><line x1="-6.0" y1="-4.0" x2="-6.0" y2="4.0" stroke="#474747" stroke-width="0.9"/><line x1="-2.0" y1="-4.0" x2="-2.0" y2="4.0" stroke="#474747" stroke-width="0.9"/><line x1="2.0" y1="-4.0" x2="2.0" y2="4.0" stroke="#474747" stroke-width="0.9"/><line x1="6.0" y1="-4.0" x2="6.0" y2="4.0" stroke="#474747" stroke-width="0.9"/><ellipse cx="-10.0" cy="0" rx="1.8" ry="4.0" fill="#fff" stroke="#474747" stroke-width="0.9"/><ellipse cx="-10.0" cy="0" rx="0.8" ry="2.0" fill="none" stroke="#474747" stroke-width="0.72"/></g>
<ellipse cx="797.0" cy="605.0" rx="2" ry="2.5" transform="rotate(0 797.0 605.0)" fill="none" stroke="#474747" stroke-width="0.9"/>
<path d="M902.0,508.0C903.5,505.5 908.2,503.8 912.0,505.0C915.8,506.2 922.0,511.3 925.0,515.0C928.0,518.7 930.0,523.8 930.0,527.0C930.0,530.2 928.0,533.5 925.0,534.0C922.0,534.5 915.7,532.3 912.0,530.0C908.3,527.7 904.7,523.7 903.0,520.0C901.3,516.3 900.5,510.5 902.0,508.0Z" fill="none" stroke="#555" stroke-width="1.0" stroke-linejoin="round"/>
<path d="M898.0,520.0 L896.0,528.0" fill="none" stroke="#555" stroke-width="1.0" stroke-linejoin="round"/>
<path d="M997.0,402.0 L990.0,420.0 L985.0,440.0" fill="none" stroke="#555" stroke-width="0.9" stroke-linejoin="round"/>
<path d="M706.0,632.0C703.3,634.7 696.0,642.0 690.0,648.0C684.0,654.0 676.3,661.7 670.0,668.0C663.7,674.3 657.0,680.7 652.0,686.0C647.0,691.3 642.0,697.7 640.0,700.0" fill="none" stroke="#5a5a5a" stroke-width="9.8" stroke-linecap="butt" stroke-linejoin="round"/>
<path d="M706.0,632.0C703.3,634.7 696.0,642.0 690.0,648.0C684.0,654.0 676.3,661.7 670.0,668.0C663.7,674.3 657.0,680.7 652.0,686.0C647.0,691.3 642.0,697.7 640.0,700.0" fill="none" stroke="#fff" stroke-width="8.0" stroke-linecap="butt" stroke-linejoin="round"/>
<g transform="translate(712,626) rotate(-40)"><rect x="-6" y="-5" width="12" height="10" fill="#fff" stroke="#474747" stroke-width="1"/><line x1="-2" y1="-5" x2="-2" y2="5" stroke="#474747"/><line x1="2" y1="-5" x2="2" y2="5" stroke="#474747"/></g>
<path d="M716,618 Q724,616 726,624 L720,632 Z" fill="#fff" stroke="#474747" stroke-width="1"/>
<path d="M637.0,708.0 L634.0,712.2 L628.0,712.2 L625.0,708.0 L628.0,703.8 L634.0,703.8Z" fill="#fff" stroke="#474747" stroke-width="0.9"/>
<ellipse cx="631.0" cy="708.0" rx="3.0" ry="2.7" fill="none" stroke="#474747" stroke-width="0.9"/>
<path d="M638.0,710.0 L668.0,714.0" fill="none" stroke="#555" stroke-width="0.8" stroke-dasharray="6 3" stroke-linejoin="round"/>
<path d="M606.0,782.0C608.3,783.3 615.3,787.0 620.0,790.0C624.7,793.0 630.7,796.3 634.0,800.0C637.3,803.7 639.5,808.0 640.0,812.0C640.5,816.0 639.3,820.7 637.0,824.0C634.7,827.3 629.8,829.7 626.0,832.0C622.2,834.3 616.0,837.0 614.0,838.0" fill="none" stroke="#5a5a5a" stroke-width="9.8" stroke-linecap="butt" stroke-linejoin="round"/>
<path d="M606.0,782.0C608.3,783.3 615.3,787.0 620.0,790.0C624.7,793.0 630.7,796.3 634.0,800.0C637.3,803.7 639.5,808.0 640.0,812.0C640.5,816.0 639.3,820.7 637.0,824.0C634.7,827.3 629.8,829.7 626.0,832.0C622.2,834.3 616.0,837.0 614.0,838.0" fill="none" stroke="#fff" stroke-width="8.0" stroke-linecap="butt" stroke-linejoin="round"/>
<g transform="translate(598.0,780.0) rotate(30.0)"><rect x="-7.0" y="-4.5" width="14.0" height="9.0" rx="1.5" fill="#fff" stroke="#474747" stroke-width="0.9"/><line x1="-2.3" y1="-4.5" x2="-2.3" y2="4.5" stroke="#474747" stroke-width="0.9"/><line x1="2.3" y1="-4.5" x2="2.3" y2="4.5" stroke="#474747" stroke-width="0.9"/><ellipse cx="-7.0" cy="0" rx="2.0" ry="4.5" fill="#fff" stroke="#474747" stroke-width="0.9"/><ellipse cx="-7.0" cy="0" rx="0.9" ry="2.2" fill="none" stroke="#474747" stroke-width="0.72"/></g>
<g transform="translate(610.0,842.0) rotate(-40.0)"><rect x="-8.0" y="-4.0" width="16.0" height="8.0" rx="1.5" fill="#fff" stroke="#474747" stroke-width="0.9"/><line x1="-4.0" y1="-4.0" x2="-4.0" y2="4.0" stroke="#474747" stroke-width="0.9"/><line x1="0.0" y1="-4.0" x2="0.0" y2="4.0" stroke="#474747" stroke-width="0.9"/><line x1="4.0" y1="-4.0" x2="4.0" y2="4.0" stroke="#474747" stroke-width="0.9"/><ellipse cx="-8.0" cy="0" rx="1.8" ry="4.0" fill="#fff" stroke="#474747" stroke-width="0.9"/><ellipse cx="-8.0" cy="0" rx="0.8" ry="2.0" fill="none" stroke="#474747" stroke-width="0.72"/></g>
<path d="M556,727 L568,719 L577,726 L566,735 Z" fill="#fff" stroke="#474747" stroke-width="1"/>
<path d="M561,727 L568,722 L573,726 L567,731 Z" fill="none" stroke="#555" stroke-width="0.8"/>
<path d="M568.0,736.0 L590.0,792.0 L598.0,810.0" fill="none" stroke="#555" stroke-width="0.8" stroke-dasharray="8 3 2 3" stroke-linejoin="round"/>
<path d="M588,815 L600,808 L609,815 L597,822 Z" fill="#fff" stroke="#474747" stroke-width="1"/>
<path d="M592.0,811.0 L605.0,819.0" fill="none" stroke="#555" stroke-width="0.7" stroke-linejoin="round"/>
<path d="M596.0,821.0 L604.0,809.0" fill="none" stroke="#555" stroke-width="0.7" stroke-linejoin="round"/>
<path d="M601.0,826.0 L606.0,838.0" fill="none" stroke="#555" stroke-width="2.5" stroke-linejoin="round"/>
<path d="M601.0,826.0 L606.0,838.0" fill="none" stroke="#fff" stroke-width="1.2" stroke-linejoin="round"/>
<g transform="translate(547,753) rotate(30)"><rect x="-8" y="-5" width="16" height="10" rx="2" fill="#fff" stroke="#474747" stroke-width="1"/><ellipse cx="6" cy="0" rx="2.5" ry="4" fill="#fff" stroke="#474747"/></g>
<path d="M567,759 L578,764 L575,767 L564,762 Z" fill="#fff" stroke="#474747" stroke-width="0.9"/>
<path d="M382.0,628.0 L420.0,652.0 L470.0,680.0 L500.0,700.0" fill="none" stroke="#555" stroke-width="0.9" stroke-linejoin="round"/>
<path d="M380.0,634.0 L418.0,658.0 L468.0,686.0 L498.0,706.0" fill="none" stroke="#555" stroke-width="0.9" stroke-linejoin="round"/>
<path d="M318.0,660.0C322.5,660.0 336.0,658.7 345.0,660.0C354.0,661.3 362.8,664.3 372.0,668.0C381.2,671.7 390.7,677.7 400.0,682.0C409.3,686.3 418.8,690.5 428.0,694.0C437.2,697.5 446.7,700.7 455.0,703.0C463.3,705.3 471.5,708.0 478.0,708.0C484.5,708.0 490.2,706.0 494.0,703.0C497.8,700.0 500.0,695.2 501.0,690.0C502.0,684.8 501.5,677.0 500.0,672.0C498.5,667.0 493.3,662.0 492.0,660.0" fill="none" stroke="#5a5a5a" stroke-width="32.8" stroke-linecap="butt" stroke-linejoin="round"/>
<path d="M318.0,660.0C322.5,660.0 336.0,658.7 345.0,660.0C354.0,661.3 362.8,664.3 372.0,668.0C381.2,671.7 390.7,677.7 400.0,682.0C409.3,686.3 418.8,690.5 428.0,694.0C437.2,697.5 446.7,700.7 455.0,703.0C463.3,705.3 471.5,708.0 478.0,708.0C484.5,708.0 490.2,706.0 494.0,703.0C497.8,700.0 500.0,695.2 501.0,690.0C502.0,684.8 501.5,677.0 500.0,672.0C498.5,667.0 493.3,662.0 492.0,660.0" fill="none" stroke="#fff" stroke-width="31.0" stroke-linecap="butt" stroke-linejoin="round"/>
<path d="M327.8,674.9 Q344.9,660.0 330.4,645.1 M330.4,674.9 Q347.5,660.0 333.0,645.1 M339.8,674.9 Q356.9,660.0 342.4,645.1 M342.4,674.9 Q359.5,660.0 345.0,645.1 M347.6,676.3 Q368.3,666.9 358.7,648.5 M350.1,677.1 Q370.8,667.6 361.2,649.2 M359.6,679.9 Q380.3,670.5 370.7,652.1 M362.1,680.6 Q382.8,671.2 373.2,652.8 M368.9,683.1 Q390.9,677.5 384.7,657.7 M371.3,684.3 Q393.3,678.6 387.0,658.8 M380.1,688.7 Q402.1,683.1 395.9,663.3 M382.5,689.9 Q404.5,684.2 398.2,664.4 M391.7,694.6 Q413.5,688.3 406.7,668.7 M394.1,695.7 Q415.9,689.4 409.0,669.8 M403.3,699.6 Q424.9,692.7 417.5,673.3 M405.7,700.6 Q427.3,693.7 419.9,674.3 M414.5,704.4 Q436.1,697.5 428.7,678.1 M416.9,705.4 Q438.5,698.5 431.1,679.1 M427.2,709.4 Q448.1,700.7 439.1,682.0 M429.6,710.3 Q450.6,701.5 441.6,682.8 M439.2,713.4 Q460.1,704.7 451.1,686.0 M441.6,714.3 Q462.6,705.5 453.6,686.8 M452.7,717.8 Q472.6,706.8 461.7,689.2 M455.3,718.3 Q475.2,707.4 464.2,689.8 M465.0,720.4 Q484.9,709.5 473.9,691.9 M467.5,721.0 Q487.4,710.1 476.5,692.4 M484.7,721.5 Q496.6,702.2 478.3,692.3 M487.2,720.7 Q499.1,701.4 480.8,691.5 M502.0,715.8 Q505.3,693.3 484.7,691.4 M503.9,714.1 Q507.3,691.7 486.7,689.7 M512.3,700.5 Q507.3,678.3 487.3,684.0 M513.5,698.2 Q508.5,676.0 488.5,681.7 M515.4,680.9 Q499.6,664.6 485.5,679.9 M515.3,678.3 Q499.4,662.0 485.4,677.3 M511.0,661.6 Q489.1,655.6 484.7,675.9 M509.5,659.4 Q487.6,653.4 483.2,673.7" fill="none" stroke="#474747" stroke-width="0.9"/>
<path d="M407.0,536.0C405.0,538.8 398.5,547.3 395.0,553.0C391.5,558.7 387.7,563.8 386.0,570.0C384.3,576.2 384.3,583.8 385.0,590.0C385.7,596.2 387.3,602.0 390.0,607.0C392.7,612.0 396.2,616.2 401.0,620.0C405.8,623.8 412.3,627.0 419.0,630.0C425.7,633.0 434.2,635.5 441.0,638.0C447.8,640.5 454.5,642.5 460.0,645.0C465.5,647.5 469.7,650.2 474.0,653.0C478.3,655.8 484.0,660.5 486.0,662.0" fill="none" stroke="#5a5a5a" stroke-width="31.8" stroke-linecap="butt" stroke-linejoin="round"/>
<path d="M407.0,536.0C405.0,538.8 398.5,547.3 395.0,553.0C391.5,558.7 387.7,563.8 386.0,570.0C384.3,576.2 384.3,583.8 385.0,590.0C385.7,596.2 387.3,602.0 390.0,607.0C392.7,612.0 396.2,616.2 401.0,620.0C405.8,623.8 412.3,627.0 419.0,630.0C425.7,633.0 434.2,635.5 441.0,638.0C447.8,640.5 454.5,642.5 460.0,645.0C465.5,647.5 469.7,650.2 474.0,653.0C478.3,655.8 484.0,660.5 486.0,662.0" fill="none" stroke="#fff" stroke-width="30.0" stroke-linecap="butt" stroke-linejoin="round"/>
<path d="M389.1,536.4 Q391.3,558.2 411.1,555.1 M387.6,538.5 Q389.8,560.3 409.6,557.2 M381.0,548.6 Q386.0,570.0 405.3,564.4 M379.8,550.9 Q384.8,572.3 404.1,566.7 M375.0,559.9 Q380.0,581.3 399.3,575.7 M373.8,562.2 Q378.8,583.6 398.1,578.0 M371.2,577.9 Q384.7,595.2 399.8,581.9 M371.1,580.5 Q384.6,597.7 399.7,584.5 M371.5,595.1 Q390.0,606.9 399.8,589.4 M372.2,597.6 Q390.7,609.4 400.6,591.9 M375.1,607.4 Q393.6,619.3 403.5,601.8 M375.9,609.9 Q394.3,621.8 404.2,604.3 M384.6,622.9 Q406.3,626.3 408.3,606.3 M386.3,624.9 Q408.0,628.3 410.0,608.3 M397.7,634.6 Q419.1,630.1 413.9,610.7 M399.9,635.9 Q421.4,631.3 416.2,612.0 M408.7,640.8 Q430.2,636.2 425.0,616.9 M411.0,642.0 Q432.5,637.5 427.3,618.1 M422.3,646.5 Q442.8,638.7 434.6,620.3 M424.8,647.4 Q445.2,639.5 437.0,621.2 M434.0,650.8 Q454.5,642.9 446.4,624.6 M436.5,651.7 Q457.0,643.8 448.8,625.5 M445.7,655.1 Q466.2,647.3 458.1,628.9 M448.1,656.0 Q468.6,648.2 460.5,629.8 M455.2,658.8 Q476.7,654.5 471.7,635.1 M457.4,660.1 Q479.0,655.8 474.0,636.4 M464.8,664.1 Q486.7,662.5 484.2,642.6 M466.9,665.7 Q488.8,664.1 486.3,644.2 M474.4,671.3 Q496.3,669.7 493.8,649.8 M476.5,672.9 Q498.4,671.3 495.9,651.4" fill="none" stroke="#474747" stroke-width="0.9"/>
<path d="M433,668 L443,662 L450,670 L440,677 Z" fill="#fff" stroke="#474747" stroke-width="1"/>
<path d="M437,668 L443,665 L446,669 L441,673 Z" fill="none" stroke="#555" stroke-width="0.8"/>
<path d="M526.0,528.0C525.3,530.0 523.7,536.3 522.0,540.0C520.3,543.7 517.0,548.3 516.0,550.0" fill="none" stroke="#5a5a5a" stroke-width="9.8" stroke-linecap="butt" stroke-linejoin="round"/>
<path d="M526.0,528.0C525.3,530.0 523.7,536.3 522.0,540.0C520.3,543.7 517.0,548.3 516.0,550.0" fill="none" stroke="#fff" stroke-width="8.0" stroke-linecap="butt" stroke-linejoin="round"/>
<g transform="translate(514.0,548.0) rotate(-70.0)"><rect x="-7.0" y="-4.0" width="14.0" height="8.0" rx="1.5" fill="#fff" stroke="#474747" stroke-width="0.9"/><line x1="-3.5" y1="-4.0" x2="-3.5" y2="4.0" stroke="#474747" stroke-width="0.9"/><line x1="0.0" y1="-4.0" x2="0.0" y2="4.0" stroke="#474747" stroke-width="0.9"/><line x1="3.5" y1="-4.0" x2="3.5" y2="4.0" stroke="#474747" stroke-width="0.9"/><ellipse cx="-7.0" cy="0" rx="1.8" ry="4.0" fill="#fff" stroke="#474747" stroke-width="0.9"/><ellipse cx="-7.0" cy="0" rx="0.8" ry="2.0" fill="none" stroke="#474747" stroke-width="0.72"/></g>
<path d="M510,556 Q505,562 498,560 L500,552 Z" fill="#fff" stroke="#474747" stroke-width="1"/>
<g transform="translate(497.0,558.0) rotate(-20.0)"><rect x="-5.0" y="-3.0" width="10.0" height="6.0" rx="1.5" fill="#fff" stroke="#474747" stroke-width="0.9"/><line x1="-1.7" y1="-3.0" x2="-1.7" y2="3.0" stroke="#474747" stroke-width="0.9"/><line x1="1.7" y1="-3.0" x2="1.7" y2="3.0" stroke="#474747" stroke-width="0.9"/><ellipse cx="-5.0" cy="0" rx="1.3" ry="3.0" fill="#fff" stroke="#474747" stroke-width="0.9"/><ellipse cx="-5.0" cy="0" rx="0.6" ry="1.5" fill="none" stroke="#474747" stroke-width="0.72"/></g>
<ellipse cx="481.0" cy="563.0" rx="2.5" ry="2.5" transform="rotate(0 481.0 563.0)" fill="none" stroke="#474747" stroke-width="0.9"/>
<path d="M484.0,563.0 L492.0,560.0" fill="none" stroke="#555" stroke-width="0.8" stroke-linejoin="round"/>
<path d="M512,522 Q518,514 530,516 Q538,518 536,526 L533,530" fill="none" stroke="#474747" stroke-width="3"/>
<path d="M512,522 Q518,514 530,516 Q538,518 536,526 L533,530" fill="none" stroke="#fff" stroke-width="1.1"/>
<path d="M504.0,504.0C501.7,506.7 495.3,514.3 490.0,520.0C484.7,525.7 477.7,532.0 472.0,538.0C466.3,544.0 460.0,551.3 456.0,556.0C452.0,560.7 449.3,564.3 448.0,566.0" fill="none" stroke="#5a5a5a" stroke-width="8.8" stroke-linecap="butt" stroke-linejoin="round"/>
<path d="M504.0,504.0C501.7,506.7 495.3,514.3 490.0,520.0C484.7,525.7 477.7,532.0 472.0,538.0C466.3,544.0 460.0,551.3 456.0,556.0C452.0,560.7 449.3,564.3 448.0,566.0" fill="none" stroke="#fff" stroke-width="7.0" stroke-linecap="butt" stroke-linejoin="round"/>
<g transform="translate(506.0,501.0) rotate(-48.0)"><rect x="-5.0" y="-4.0" width="10.0" height="8.0" rx="1.5" fill="#fff" stroke="#474747" stroke-width="0.9"/><line x1="0.0" y1="-4.0" x2="0.0" y2="4.0" stroke="#474747" stroke-width="0.9"/><ellipse cx="-5.0" cy="0" rx="1.8" ry="4.0" fill="#fff" stroke="#474747" stroke-width="0.9"/><ellipse cx="-5.0" cy="0" rx="0.8" ry="2.0" fill="none" stroke="#474747" stroke-width="0.72"/></g>
<g transform="translate(443.0,572.0) rotate(-48.0)"><rect x="-6.0" y="-4.0" width="12.0" height="8.0" rx="1.5" fill="#fff" stroke="#474747" stroke-width="0.9"/><line x1="-3.0" y1="-4.0" x2="-3.0" y2="4.0" stroke="#474747" stroke-width="0.9"/><line x1="0.0" y1="-4.0" x2="0.0" y2="4.0" stroke="#474747" stroke-width="0.9"/><line x1="3.0" y1="-4.0" x2="3.0" y2="4.0" stroke="#474747" stroke-width="0.9"/><ellipse cx="-6.0" cy="0" rx="1.8" ry="4.0" fill="#fff" stroke="#474747" stroke-width="0.9"/><ellipse cx="-6.0" cy="0" rx="0.8" ry="2.0" fill="none" stroke="#474747" stroke-width="0.72"/></g>
<path d="M439.0,581.0 L437.0,583.8 L433.0,583.8 L431.0,581.0 L433.0,578.2 L437.0,578.2Z" fill="#fff" stroke="#474747" stroke-width="0.9"/>
<ellipse cx="435.0" cy="581.0" rx="2.0" ry="1.8" fill="none" stroke="#474747" stroke-width="0.9"/>
<path d="M432.0,585.0 L416.0,600.0 L402.0,610.0" fill="none" stroke="#555" stroke-width="1.8" stroke-linejoin="round"/>
<path d="M432.0,585.0 L416.0,600.0 L402.0,610.0" fill="none" stroke="#fff" stroke-width="0.6" stroke-linejoin="round"/>
<ellipse cx="430" cy="598" rx="11" ry="8" transform="rotate(40 430 598)" fill="none" stroke="#474747" stroke-width="2.4"/>
<ellipse cx="430" cy="598" rx="11" ry="8" transform="rotate(40 430 598)" fill="none" stroke="#fff" stroke-width="0.8"/>
<path d="M452,600 Q458,596 464,600 L472,595 L480,604 L476,612 Q468,610 462,614 Z" fill="#fff" stroke="#474747" stroke-width="1"/>
<path d="M464.0,600.0 L468.0,610.0" fill="none" stroke="#555" stroke-width="0.8" stroke-linejoin="round"/>
<path d="M460.0,596.0 L458.0,584.0 L463.0,574.0" fill="none" stroke="#555" stroke-width="0.8" stroke-linejoin="round"/>
<path d="M512.0,560.0C510.5,564.2 506.0,576.7 503.0,585.0C500.0,593.3 496.7,602.2 494.0,610.0C491.3,617.8 488.7,625.7 487.0,632.0C485.3,638.3 484.5,645.3 484.0,648.0" fill="none" stroke="#5a5a5a" stroke-width="8.8" stroke-linecap="butt" stroke-linejoin="round"/>
<path d="M512.0,560.0C510.5,564.2 506.0,576.7 503.0,585.0C500.0,593.3 496.7,602.2 494.0,610.0C491.3,617.8 488.7,625.7 487.0,632.0C485.3,638.3 484.5,645.3 484.0,648.0" fill="none" stroke="#fff" stroke-width="7.0" stroke-linecap="butt" stroke-linejoin="round"/>
<path d="M1.5,631 L35,597.5 L38.5,600.5 L37.5,605.5 L5,638.5 L2,636 Z" fill="#fff" stroke="#474747" stroke-width="1"/>
<path d="M5.6,642 L26.6,620.8 L30.8,623 L31.5,628 L9.8,649.5 L6.5,647 Z" fill="#fff" stroke="#474747" stroke-width="1"/>
<path d="M8.0,634.0 L33.0,607.0" fill="none" stroke="#555" stroke-width="0.8" stroke-linejoin="round"/>
<path d="M21.0,617.0 L84.0,654.0" fill="none" stroke="#555" stroke-width="0.9" stroke-dasharray="14 3 3 3" stroke-linejoin="round"/>
<path d="M18.0,637.6 L81.0,674.0" fill="none" stroke="#555" stroke-width="0.9" stroke-dasharray="14 3 3 3" stroke-linejoin="round"/>
<g transform="translate(64,621) rotate(33)"><rect x="-14" y="-3" width="28" height="6" fill="none" stroke="#555" stroke-width="0.8" stroke-dasharray="3 1.5"/><rect x="-18" y="-4" width="5" height="8" fill="none" stroke="#555" stroke-width="0.8" stroke-dasharray="2 1"/></g>
<path d="M78.0,630.0 L88.0,635.0" fill="none" stroke="#555" stroke-width="0.8" stroke-linejoin="round"/>
<path d="M129,574 L133,572 L135,577 L131,580 Z" fill="#fff" stroke="#474747" stroke-width="1"/>
<path d="M133.0,580.0 L137.0,593.0" fill="none" stroke="#555" stroke-width="0.8" stroke-linejoin="round"/>
<path d="M88.0,635.0 L131.6,593.5 L161.0,592.0 L163.0,594.2 L162.4,636.2 L158.2,639.7 L130.2,647.4 L124.6,686.0 L100.0,711.0 L93.0,710.0 L84.0,690.0 L82.6,674.0Z" fill="#fff" stroke="#474747" stroke-width="2.6"/>
<path d="M88.0,635.0 L131.6,593.5 L161.0,592.0 L163.0,594.2 L162.4,636.2 L158.2,639.7 L130.2,647.4 L124.6,686.0 L100.0,711.0 L93.0,710.0 L84.0,690.0 L82.6,674.0Z" fill="#fff" stroke="#fff" stroke-width="0.8"/>
<path d="M131.6,596.0 L160.0,594.5" fill="none" stroke="#555" stroke-width="0.6" stroke-linejoin="round"/>
<path d="M153.0,600.0 L151.2,602.4 L147.8,602.4 L146.0,600.0 L147.8,597.6 L151.2,597.6Z" fill="#fff" stroke="#474747" stroke-width="0.9"/>
<ellipse cx="149.5" cy="600.0" rx="1.8" ry="1.6" fill="none" stroke="#474747" stroke-width="0.9"/>
<ellipse cx="139.0" cy="599.0" rx="1.2" ry="1.2" transform="rotate(0 139.0 599.0)" fill="none" stroke="#474747" stroke-width="0.9"/>
<ellipse cx="101.0" cy="643.0" rx="1.5" ry="1.5" transform="rotate(0 101.0 643.0)" fill="none" stroke="#474747" stroke-width="0.9"/>
<path d="M158.5,652.0 L156.8,654.4 L153.2,654.4 L151.5,652.0 L153.2,649.6 L156.8,649.6Z" fill="#fff" stroke="#474747" stroke-width="0.9"/>
<ellipse cx="155.0" cy="652.0" rx="1.8" ry="1.6" fill="none" stroke="#474747" stroke-width="0.9"/>
<path d="M139.0,600.0 L155.0,650.0" fill="none" stroke="#555" stroke-width="0.8" stroke-linejoin="round"/>
<g transform="translate(111,665) rotate(33)"><rect x="-14" y="-3" width="28" height="6" rx="3" fill="#fff" stroke="#474747" stroke-width="1"/></g>
<path d="M103.0,645.0 L122.0,656.0" fill="none" stroke="#555" stroke-width="0.8" stroke-linejoin="round"/>
<path d="M134.0,663.0 L168.0,680.0" fill="none" stroke="#555" stroke-width="0.8" stroke-linejoin="round"/>
<g transform="translate(128,692) rotate(33)"><rect x="-10" y="-3" width="16" height="6" rx="2" fill="#fff" stroke="#474747" stroke-width="1"/><path d="M6,-4 L10,-3 L10,3 L6,4 Z" fill="#fff" stroke="#474747" stroke-width="1"/><rect x="10" y="-2" width="5" height="4" fill="#fff" stroke="#474747" stroke-width="1"/></g>
<g transform="translate(110,710) rotate(33)"><rect x="-10" y="-3" width="16" height="6" rx="2" fill="#fff" stroke="#474747" stroke-width="1"/><path d="M6,-4 L10,-3 L10,3 L6,4 Z" fill="#fff" stroke="#474747" stroke-width="1"/><rect x="10" y="-2" width="5" height="4" fill="#fff" stroke="#474747" stroke-width="1"/></g>
<path d="M126.0,687.0 L130.0,650.0" fill="none" stroke="#555" stroke-width="0.8" stroke-linejoin="round"/>
<path d="M117.0,703.0 L140.0,685.0" fill="none" stroke="#555" stroke-width="0.8" stroke-linejoin="round"/>
<path d="M141.6,617 L172,616.5 L180,618 L187,621.5 L241,656 L252,667 L259,681 L264,696" fill="none" stroke="#474747" stroke-width="3.6" stroke-linejoin="round"/>
<path d="M141.6,617 L172,616.5 L180,618 L187,621.5 L241,656 L252,667 L259,681 L264,696" fill="none" stroke="#fff" stroke-width="1.6" stroke-linejoin="round"/>
<rect x="141" y="615" width="21" height="8" rx="3" fill="#fff" stroke="#474747" stroke-width="1"/>
<ellipse cx="146.0" cy="619.0" rx="1.2" ry="1.2" transform="rotate(0 146.0 619.0)" fill="none" stroke="#474747" stroke-width="0.9"/>
<ellipse cx="155.0" cy="619.0" rx="1.2" ry="1.2" transform="rotate(0 155.0 619.0)" fill="none" stroke="#474747" stroke-width="0.9"/>
<g transform="translate(188,688) rotate(-42)"><rect x="-26" y="-13" width="48" height="26" fill="#fff" stroke="#474747" stroke-width="1"/><rect x="10" y="-14" width="14" height="28" rx="2" fill="#fff" stroke="#474747" stroke-width="1"/><line x1="14" y1="-14" x2="14" y2="14" stroke="#474747"/><line x1="18" y1="-14" x2="18" y2="14" stroke="#474747"/><line x1="21" y1="-14" x2="21" y2="14" stroke="#474747"/><rect x="-24" y="-15" width="10" height="30" rx="2" fill="#fff" stroke="#474747" stroke-width="1"/><line x1="-20" y1="-15" x2="-20" y2="15" stroke="#474747" stroke-width="1.6"/><line x1="-17" y1="-15" x2="-17" y2="15" stroke="#474747" stroke-width="1.6"/><ellipse cx="-27" cy="0" rx="5" ry="12" fill="#fff" stroke="#474747" stroke-width="1"/><path d="M-6,-13 L-6,-22 L6,-22 L6,-13" fill="#fff" stroke="#474747" stroke-width="1"/></g>
<path d="M214,672 L178,714 L172,716" fill="none" stroke="#474747" stroke-width="3.4"/>
<path d="M214,672 L178,714 L172,716" fill="none" stroke="#fff" stroke-width="1.4"/>
<g transform="translate(192,733) rotate(-35)"><rect x="-22" y="-14" width="44" height="28" rx="3" fill="#fff" stroke="#474747" stroke-width="1"/><rect x="-22" y="-16" width="12" height="32" rx="2" fill="#fff" stroke="#474747" stroke-width="1"/><line x1="-18" y1="-16" x2="-18" y2="16" stroke="#474747" stroke-width="1.6"/><line x1="-14" y1="-16" x2="-14" y2="16" stroke="#474747" stroke-width="1.4"/><ellipse cx="-26" cy="0" rx="5" ry="12" fill="#fff" stroke="#474747" stroke-width="1"/><rect x="-30" y="-11" width="6" height="22" fill="#fff" stroke="none"/><ellipse cx="-30" cy="0" rx="5" ry="11" fill="#fff" stroke="#474747" stroke-width="1"/></g>
<ellipse cx="168" cy="727" rx="6" ry="7" fill="#fff" stroke="#474747" stroke-width="1"/>
<ellipse cx="166" cy="729" rx="3" ry="3.5" fill="#fff" stroke="#474747" stroke-width="1"/>
<g transform="translate(210,712) rotate(-35)"><rect x="-9" y="-10" width="18" height="20" rx="3" fill="#fff" stroke="#474747" stroke-width="1"/><ellipse cx="-2" cy="0" rx="4" ry="5" fill="#fff" stroke="#474747"/></g>
<ellipse cx="200" cy="703" rx="5" ry="6" fill="#fff" stroke="#474747" stroke-width="1"/>
<circle cx="240" cy="722" r="3.5" fill="#fff" stroke="#666" stroke-width="0.9"/>
<path d="M218.0,710.0 L236.0,720.0" fill="none" stroke="#555" stroke-width="0.8" stroke-linejoin="round"/>
<g transform="translate(243,630) rotate(-40)"><rect x="-8" y="-6" width="16" height="12" rx="2" fill="#fff" stroke="#474747"/><line x1="-3" y1="-6" x2="-3" y2="6" stroke="#474747"/><line x1="1" y1="-6" x2="1" y2="6" stroke="#474747"/><line x1="5" y1="-6" x2="5" y2="6" stroke="#474747"/></g>
<path d="M248,624 Q254,618 262,620 L264,630 L252,634 Z" fill="#fff" stroke="#474747" stroke-width="1"/>
<g transform="translate(258.0,626.0) rotate(-5.0)"><rect x="-5.0" y="-6.0" width="10.0" height="12.0" rx="1.5" fill="#fff" stroke="#474747" stroke-width="0.9"/><line x1="-1.7" y1="-6.0" x2="-1.7" y2="6.0" stroke="#474747" stroke-width="0.9"/><line x1="1.7" y1="-6.0" x2="1.7" y2="6.0" stroke="#474747" stroke-width="0.9"/><ellipse cx="-5.0" cy="0" rx="2.6" ry="6.0" fill="#fff" stroke="#474747" stroke-width="0.9"/><ellipse cx="-5.0" cy="0" rx="1.2" ry="3.0" fill="none" stroke="#474747" stroke-width="0.72"/></g>
<path d="M262.0,625.0C264.2,624.8 269.5,624.2 275.0,624.0C280.5,623.8 287.8,623.5 295.0,624.0C302.2,624.5 310.5,625.0 318.0,627.0C325.5,629.0 334.3,633.2 340.0,636.0C345.7,638.8 350.0,642.7 352.0,644.0" fill="none" stroke="#5a5a5a" stroke-width="11.8" stroke-linecap="butt" stroke-linejoin="round"/>
<path d="M262.0,625.0C264.2,624.8 269.5,624.2 275.0,624.0C280.5,623.8 287.8,623.5 295.0,624.0C302.2,624.5 310.5,625.0 318.0,627.0C325.5,629.0 334.3,633.2 340.0,636.0C345.7,638.8 350.0,642.7 352.0,644.0" fill="none" stroke="#fff" stroke-width="10.0" stroke-linecap="butt" stroke-linejoin="round"/>
<path d="M273.0,618.0 L273.0,631.0" fill="none" stroke="#555" stroke-width="0.9" stroke-linejoin="round"/>
<path d="M294.0,618.0 L294.0,630.0" fill="none" stroke="#555" stroke-width="0.9" stroke-linejoin="round"/>
<g transform="translate(246.0,657.0) rotate(-25.0)"><rect x="-5.0" y="-4.0" width="10.0" height="8.0" rx="1.5" fill="#fff" stroke="#474747" stroke-width="0.9"/><line x1="-1.7" y1="-4.0" x2="-1.7" y2="4.0" stroke="#474747" stroke-width="0.9"/><line x1="1.7" y1="-4.0" x2="1.7" y2="4.0" stroke="#474747" stroke-width="0.9"/><ellipse cx="-5.0" cy="0" rx="1.8" ry="4.0" fill="#fff" stroke="#474747" stroke-width="0.9"/><ellipse cx="-5.0" cy="0" rx="0.8" ry="2.0" fill="none" stroke="#474747" stroke-width="0.72"/></g>
<g transform="translate(250.0,672.0) rotate(-35.0)"><rect x="-6.0" y="-5.0" width="12.0" height="10.0" rx="1.5" fill="#fff" stroke="#474747" stroke-width="0.9"/><line x1="-2.0" y1="-5.0" x2="-2.0" y2="5.0" stroke="#474747" stroke-width="0.9"/><line x1="2.0" y1="-5.0" x2="2.0" y2="5.0" stroke="#474747" stroke-width="0.9"/><ellipse cx="-6.0" cy="0" rx="2.2" ry="5.0" fill="#fff" stroke="#474747" stroke-width="0.9"/><ellipse cx="-6.0" cy="0" rx="1.0" ry="2.5" fill="none" stroke="#474747" stroke-width="0.72"/></g>
<g transform="translate(266.0,655.0) rotate(0.0)"><rect x="-6.0" y="-5.0" width="12.0" height="10.0" rx="1.5" fill="#fff" stroke="#474747" stroke-width="0.9"/><line x1="-2.0" y1="-5.0" x2="-2.0" y2="5.0" stroke="#474747" stroke-width="0.9"/><line x1="2.0" y1="-5.0" x2="2.0" y2="5.0" stroke="#474747" stroke-width="0.9"/><ellipse cx="-6.0" cy="0" rx="2.2" ry="5.0" fill="#fff" stroke="#474747" stroke-width="0.9"/><ellipse cx="-6.0" cy="0" rx="1.0" ry="2.5" fill="none" stroke="#474747" stroke-width="0.72"/></g>
<g transform="translate(269.0,667.0) rotate(0.0)"><rect x="-7.0" y="-5.0" width="14.0" height="10.0" rx="1.5" fill="#fff" stroke="#474747" stroke-width="0.9"/><line x1="-2.3" y1="-5.0" x2="-2.3" y2="5.0" stroke="#474747" stroke-width="0.9"/><line x1="2.3" y1="-5.0" x2="2.3" y2="5.0" stroke="#474747" stroke-width="0.9"/><ellipse cx="-7.0" cy="0" rx="2.2" ry="5.0" fill="#fff" stroke="#474747" stroke-width="0.9"/><ellipse cx="-7.0" cy="0" rx="1.0" ry="2.5" fill="none" stroke="#474747" stroke-width="0.72"/></g>
<path d="M272.0,654.0C275.0,653.7 282.0,652.7 290.0,652.0C298.0,651.3 315.0,650.3 320.0,650.0" fill="none" stroke="#5a5a5a" stroke-width="8.8" stroke-linecap="butt" stroke-linejoin="round"/>
<path d="M272.0,654.0C275.0,653.7 282.0,652.7 290.0,652.0C298.0,651.3 315.0,650.3 320.0,650.0" fill="none" stroke="#fff" stroke-width="7.0" stroke-linecap="butt" stroke-linejoin="round"/>
<path d="M276.0,666.0C279.2,665.7 287.3,664.7 295.0,664.0C302.7,663.3 317.5,662.3 322.0,662.0" fill="none" stroke="#5a5a5a" stroke-width="9.8" stroke-linecap="butt" stroke-linejoin="round"/>
<path d="M276.0,666.0C279.2,665.7 287.3,664.7 295.0,664.0C302.7,663.3 317.5,662.3 322.0,662.0" fill="none" stroke="#fff" stroke-width="8.0" stroke-linecap="butt" stroke-linejoin="round"/>
<path d="M273,650 Q278,645 283,655 L290,678 Q288,682 285,679 L276,658 Z" fill="#fff" stroke="#474747" stroke-width="1"/>
<path d="M240.0,690.0 L270.0,655.0" fill="none" stroke="#555" stroke-width="0.8" stroke-linejoin="round"/>
<path d="M225.0,705.0 L250.0,680.0" fill="none" stroke="#555" stroke-width="0.8" stroke-dasharray="6 3" stroke-linejoin="round"/>
<path d="M215.0,673.0 L243.0,641.0" fill="none" stroke="#555" stroke-width="0.8" stroke-linejoin="round"/>
<path d="M287.0,712.0C288.5,710.0 292.5,703.8 296.0,700.0C299.5,696.2 303.2,691.5 308.0,689.0C312.8,686.5 319.3,684.8 325.0,685.0C330.7,685.2 336.8,687.7 342.0,690.0C347.2,692.3 353.7,697.5 356.0,699.0" fill="none" stroke="#5a5a5a" stroke-width="9.8" stroke-linecap="butt" stroke-linejoin="round"/>
<path d="M287.0,712.0C288.5,710.0 292.5,703.8 296.0,700.0C299.5,696.2 303.2,691.5 308.0,689.0C312.8,686.5 319.3,684.8 325.0,685.0C330.7,685.2 336.8,687.7 342.0,690.0C347.2,692.3 353.7,697.5 356.0,699.0" fill="none" stroke="#fff" stroke-width="8.0" stroke-linecap="butt" stroke-linejoin="round"/>
<g transform="translate(280.0,718.0) rotate(-45.0)"><rect x="-7.0" y="-4.5" width="14.0" height="9.0" rx="1.5" fill="#fff" stroke="#474747" stroke-width="0.9"/><line x1="-2.3" y1="-4.5" x2="-2.3" y2="4.5" stroke="#474747" stroke-width="0.9"/><line x1="2.3" y1="-4.5" x2="2.3" y2="4.5" stroke="#474747" stroke-width="0.9"/><ellipse cx="-7.0" cy="0" rx="2.0" ry="4.5" fill="#fff" stroke="#474747" stroke-width="0.9"/><ellipse cx="-7.0" cy="0" rx="0.9" ry="2.2" fill="none" stroke="#474747" stroke-width="0.72"/></g>
<g transform="translate(362.0,704.0) rotate(30.0)"><rect x="-7.0" y="-4.5" width="14.0" height="9.0" rx="1.5" fill="#fff" stroke="#474747" stroke-width="0.9"/><line x1="-2.3" y1="-4.5" x2="-2.3" y2="4.5" stroke="#474747" stroke-width="0.9"/><line x1="2.3" y1="-4.5" x2="2.3" y2="4.5" stroke="#474747" stroke-width="0.9"/><ellipse cx="-7.0" cy="0" rx="2.0" ry="4.5" fill="#fff" stroke="#474747" stroke-width="0.9"/><ellipse cx="-7.0" cy="0" rx="0.9" ry="2.2" fill="none" stroke="#474747" stroke-width="0.72"/></g>
<path d="M372.0,708.0 L390.0,720.0" fill="none" stroke="#555" stroke-width="0.8" stroke-dasharray="5 3" stroke-linejoin="round"/>
<path d="M393.0,703.0 L394.0,722.0" fill="none" stroke="#555" stroke-width="0.8" stroke-dasharray="5 3" stroke-linejoin="round"/>
<g transform="translate(388,466) rotate(-45)"><rect x="-14" y="-2.2" width="30" height="4.4" fill="#fff" stroke="#474747" stroke-width="0.9"/><line x1="-12" y1="-2.2" x2="-12" y2="2.2" stroke="#474747" stroke-width="0.8"/><rect x="16" y="-4" width="4" height="8" fill="#fff" stroke="#474747" stroke-width="0.9"/><rect x="20" y="-3" width="2.5" height="6" fill="#fff" stroke="#474747" stroke-width="0.9"/></g>
<g transform="translate(276,573) rotate(44) scale(1.2,0.95)"><path d="M-15,-8 L-11,-9 L-10,-4 L-6,-4 L-6,-9 L-1,-8 L0,-4 L4,-4 L4,-9 L9,-8 L10,-4 L14,-5 L15,0 L14,5 L10,4 L9,8 L4,9 L4,4 L0,4 L-1,8 L-6,9 L-6,4 L-10,4 L-11,9 L-15,8 L-13,0 Z" fill="#fff" stroke="#474747" stroke-width="0.95" stroke-linejoin="round"/><circle cx="0" cy="0" r="1.2" fill="none" stroke="#474747" stroke-width="0.7"/></g>
<g transform="translate(296,557) rotate(44) scale(1.2,0.95)"><path d="M-15,-8 L-11,-9 L-10,-4 L-6,-4 L-6,-9 L-1,-8 L0,-4 L4,-4 L4,-9 L9,-8 L10,-4 L14,-5 L15,0 L14,5 L10,4 L9,8 L4,9 L4,4 L0,4 L-1,8 L-6,9 L-6,4 L-10,4 L-11,9 L-15,8 L-13,0 Z" fill="#fff" stroke="#474747" stroke-width="0.95" stroke-linejoin="round"/><circle cx="0" cy="0" r="1.2" fill="none" stroke="#474747" stroke-width="0.7"/></g>
<ellipse cx="310" cy="541" rx="19" ry="8.5" transform="rotate(50 310 541)" fill="none" stroke="#474747" stroke-width="2.6"/>
<ellipse cx="310" cy="541" rx="19" ry="8.5" transform="rotate(50 310 541)" fill="none" stroke="#fff" stroke-width="0.9"/>
<line x1="304" y1="546" x2="316" y2="536" stroke="#474747" stroke-width="0.8"/>
<circle cx="318" cy="553" r="2.2" fill="#fff" stroke="#474747" stroke-width="0.9"/>
<g transform="translate(327,528) rotate(44) scale(1.2,0.95)"><path d="M-15,-8 L-11,-9 L-10,-4 L-6,-4 L-6,-9 L-1,-8 L0,-4 L4,-4 L4,-9 L9,-8 L10,-4 L14,-5 L15,0 L14,5 L10,4 L9,8 L4,9 L4,4 L0,4 L-1,8 L-6,9 L-6,4 L-10,4 L-11,9 L-15,8 L-13,0 Z" fill="#fff" stroke="#474747" stroke-width="0.95" stroke-linejoin="round"/><circle cx="0" cy="0" r="1.2" fill="none" stroke="#474747" stroke-width="0.7"/></g>
<g transform="translate(339,517) rotate(44) scale(1.2,0.95)"><path d="M-15,-8 L-11,-9 L-10,-4 L-6,-4 L-6,-9 L-1,-8 L0,-4 L4,-4 L4,-9 L9,-8 L10,-4 L14,-5 L15,0 L14,5 L10,4 L9,8 L4,9 L4,4 L0,4 L-1,8 L-6,9 L-6,4 L-10,4 L-11,9 L-15,8 L-13,0 Z" fill="#fff" stroke="#474747" stroke-width="0.95" stroke-linejoin="round"/><circle cx="0" cy="0" r="1.2" fill="none" stroke="#474747" stroke-width="0.7"/></g>
<ellipse cx="352" cy="499" rx="19" ry="8.5" transform="rotate(50 352 499)" fill="none" stroke="#474747" stroke-width="2.6"/>
<ellipse cx="352" cy="499" rx="19" ry="8.5" transform="rotate(50 352 499)" fill="none" stroke="#fff" stroke-width="0.9"/>
<line x1="346" y1="504" x2="358" y2="494" stroke="#474747" stroke-width="0.8"/>
<circle cx="360" cy="511" r="2.2" fill="#fff" stroke="#474747" stroke-width="0.9"/>
<g transform="translate(367,487) rotate(44) scale(1.2,0.95)"><path d="M-15,-8 L-11,-9 L-10,-4 L-6,-4 L-6,-9 L-1,-8 L0,-4 L4,-4 L4,-9 L9,-8 L10,-4 L14,-5 L15,0 L14,5 L10,4 L9,8 L4,9 L4,4 L0,4 L-1,8 L-6,9 L-6,4 L-10,4 L-11,9 L-15,8 L-13,0 Z" fill="#fff" stroke="#474747" stroke-width="0.95" stroke-linejoin="round"/><circle cx="0" cy="0" r="1.2" fill="none" stroke="#474747" stroke-width="0.7"/></g>
<path d="M264.5,585.0 L262.8,587.4 L259.2,587.4 L257.5,585.0 L259.2,582.6 L262.8,582.6Z" fill="#fff" stroke="#474747" stroke-width="0.9"/>
<ellipse cx="261.0" cy="585.0" rx="1.8" ry="1.6" fill="none" stroke="#474747" stroke-width="0.9"/>
<path d="M368.0,520.0 L395.0,500.0 L385.0,540.0 L400.0,525.0" fill="none" stroke="#555" stroke-width="0.8" stroke-linejoin="round"/>
<path d="M383.0,523.0 L393.0,499.0" fill="none" stroke="#555" stroke-width="0.8" stroke-linejoin="round"/>
<path d="M640,462 Q646,440 668,432 Q682,432 680,448 Q676,462 668,470" fill="none" stroke="#474747" stroke-width="3.2"/>
<path d="M640,462 Q646,440 668,432 Q682,432 680,448 Q676,462 668,470" fill="none" stroke="#fff" stroke-width="1.2"/>
<path d="M638,478 Q644,472 652,474" fill="none" stroke="#474747" stroke-width="3.2"/>
<path d="M638,478 Q644,472 652,474" fill="none" stroke="#fff" stroke-width="1.2"/>
<path d="M619,507 L645,518 L672,526 Q683,530 677,533 L660,529 L648,522" fill="none" stroke="#474747" stroke-width="3"/>
<path d="M619,507 L645,518 L672,526 Q683,530 677,533 L660,529 L648,522" fill="none" stroke="#fff" stroke-width="1.1"/>
<path d="M620.0,506.0 L618.5,508.1 L615.5,508.1 L614.0,506.0 L615.5,503.9 L618.5,503.9Z" fill="#fff" stroke="#474747" stroke-width="0.9"/>
<ellipse cx="617.0" cy="506.0" rx="1.5" ry="1.4" fill="none" stroke="#474747" stroke-width="0.9"/>
<path d="M684,322 Q674,330 676,348 Q680,362 692,358 Q700,350 697,330 Q696,324 700,320" fill="none" stroke="#474747" stroke-width="3.4"/>
<path d="M684,322 Q674,330 676,348 Q680,362 692,358 Q700,350 697,330 Q696,324 700,320" fill="none" stroke="#fff" stroke-width="1.4"/>
<path d="M640,362 Q648,360 650,372 Q652,385 646,392 Q640,385 640,362 Z" fill="none" stroke="#474747" stroke-width="1"/>
<path d="M418,730 Q406,742 406,752 Q408,760 414,760 Q421,758 422,748 Q422,738 418,730 Z" fill="#fff" stroke="#474747" stroke-width="2.2"/>
<path d="M418,730 Q406,742 406,752 Q408,760 414,760 Q421,758 422,748 Q422,738 418,730 Z" fill="none" stroke="#fff" stroke-width="0.7"/>
<path d="M412.0,760.0 L410.0,763.0" fill="none" stroke="#555" stroke-width="1.2" stroke-linejoin="round"/>
<path d="M419.0,729.0 L420.0,712.0" fill="none" stroke="#555" stroke-width="0.8" stroke-linejoin="round"/>
<path d="M484,452 Q496,458 504,470 Q510,480 508,490" fill="none" stroke="#474747" stroke-width="3"/>
<path d="M484,452 Q496,458 504,470 Q510,480 508,490" fill="none" stroke="#fff" stroke-width="1.1"/>
<path d="M733,360 L742,368 L739,376 L731,371 Z" fill="#fff" stroke="#474747" stroke-width="1"/>
</g>
<g stroke="#111" stroke-width="1.3">
<line x1="792.7" y1="67.2" x2="838.4" y2="105.5"/>
<line x1="776.6" y1="83.2" x2="824.8" y2="108.0"/>
<line x1="751.9" y1="104.7" x2="812.4" y2="120.3"/>
<line x1="879.1" y1="141.3" x2="853.2" y2="146.3"/>
<line x1="972.2" y1="55.7" x2="954.5" y2="66.0"/>
<line x1="1035.0" y1="67.0" x2="1025.8" y2="84.6"/>
<line x1="1099.9" y1="75.7" x2="1073.0" y2="91.8"/>
<line x1="1098.9" y1="149.9" x2="1085.5" y2="158.7"/>
<line x1="1094.0" y1="184.9" x2="1023.7" y2="141.2"/>
<line x1="943.7" y1="205.8" x2="949.4" y2="194.7"/>
<line x1="1066.0" y1="223.0" x2="1055.0" y2="218.0"/>
<line x1="896.8" y1="231.8" x2="898.0" y2="204.6"/>
<line x1="1082.0" y1="255.0" x2="1068.5" y2="262.0"/>
<line x1="872.0" y1="251.5" x2="883.0" y2="204.6"/>
<line x1="914.0" y1="249.0" x2="928.0" y2="238.7"/>
<line x1="845.0" y1="257.7" x2="859.7" y2="209.5"/>
<line x1="911.6" y1="271.3" x2="945.0" y2="245.4"/>
<line x1="1002.0" y1="284.7" x2="988.7" y2="277.5"/>
<line x1="985.3" y1="302.7" x2="950.7" y2="283.7"/>
<line x1="892.7" y1="317.0" x2="926.0" y2="303.5"/>
<line x1="1007.6" y1="323.2" x2="971.7" y2="322.0"/>
<line x1="945.8" y1="328.2" x2="947.8" y2="318.3"/>
<line x1="1004.6" y1="345.5" x2="1029.8" y2="352.9"/>
<line x1="897.6" y1="395.6" x2="973.0" y2="362.8"/>
<line x1="940.8" y1="401.0" x2="968.0" y2="386.3"/>
<line x1="948.3" y1="422.0" x2="992.7" y2="396.1"/>
<line x1="1016.2" y1="428.3" x2="987.8" y2="445.6"/>
<line x1="1011.3" y1="449.3" x2="987.8" y2="459.0"/>
<line x1="1017.0" y1="485.7" x2="998.4" y2="475.8"/>
<line x1="808.2" y1="527.7" x2="831.7" y2="541.3"/>
<line x1="783.5" y1="552.4" x2="809.4" y2="567.3"/>
<line x1="888.5" y1="567.3" x2="866.3" y2="552.4"/>
<line x1="844.0" y1="617.9" x2="810.7" y2="600.6"/>
<line x1="815.7" y1="629.5" x2="796.0" y2="613.5"/>
<line x1="684.8" y1="623.4" x2="699.6" y2="635.7"/>
<line x1="615.8" y1="649.8" x2="592.8" y2="637.0"/>
<line x1="761.4" y1="696.3" x2="723.0" y2="674.0"/>
<line x1="590.9" y1="709.8" x2="571.0" y2="721.0"/>
<line x1="382.0" y1="751.0" x2="405.5" y2="720.0"/>
<line x1="447.5" y1="763.2" x2="421.5" y2="747.7"/>
<line x1="548.8" y1="838.0" x2="587.0" y2="820.0"/>
<line x1="578.4" y1="846.5" x2="599.5" y2="836.0"/>
<line x1="420.3" y1="880.6" x2="434.0" y2="888.0"/>
<line x1="505.6" y1="874.4" x2="482.0" y2="860.8"/>
<line x1="417.0" y1="901.6" x2="438.8" y2="910.3"/>
<line x1="509.3" y1="632.2" x2="477.0" y2="613.6"/>
<line x1="663.8" y1="826.3" x2="642.8" y2="816.4"/>
<line x1="119.5" y1="735.7" x2="159.1" y2="713.5"/>
<line x1="138.8" y1="772.0" x2="161.5" y2="760.0"/>
<line x1="222.1" y1="758.0" x2="196.1" y2="743.1"/>
<line x1="332.0" y1="719.7" x2="311.0" y2="697.4"/>
<line x1="105.0" y1="561.0" x2="128.5" y2="573.2"/>
<line x1="55.6" y1="590.5" x2="39.5" y2="599.2"/>
<line x1="207.6" y1="615.2" x2="194.0" y2="622.7"/>
<line x1="26.0" y1="670.8" x2="17.3" y2="647.4"/>
<line x1="59.3" y1="703.0" x2="82.8" y2="689.4"/>
<line x1="220.8" y1="551.0" x2="256.6" y2="570.7"/>
<line x1="350.5" y1="439.3" x2="386.3" y2="459.5"/>
<line x1="308.5" y1="471.9" x2="334.4" y2="486.7"/>
<line x1="276.4" y1="493.6" x2="309.7" y2="512.7"/>
<line x1="245.5" y1="520.0" x2="282.5" y2="541.0"/>
<line x1="696.2" y1="464.5" x2="683.9" y2="455.8"/>
<line x1="541.7" y1="578.9" x2="512.3" y2="561.5"/>
<line x1="532.0" y1="597.4" x2="481.9" y2="564.7"/>
<line x1="561.6" y1="239.2" x2="583.1" y2="249.5"/>
<line x1="679.5" y1="247.0" x2="662.2" y2="236.0"/>
<line x1="711.6" y1="303.9" x2="740.0" y2="320.0"/>
<line x1="588.0" y1="308.8" x2="570.8" y2="299.5"/>
<line x1="716.6" y1="388.0" x2="736.3" y2="378.0"/>
<line x1="1187.4" y1="267.8" x2="1165.8" y2="253.8"/>
<line x1="1152.4" y1="309.0" x2="1131.8" y2="297.0"/>
</g>
<g font-family="Liberation Sans, sans-serif" font-size="21" text-anchor="middle" fill="#000">
<text x="779.1" y="64.5">5:1</text>
<text x="771.4" y="86.7">5</text>
<text x="731.2" y="108.5">5:2</text>
<text x="986.0" y="60.7">32</text>
<text x="1044.0" y="62.3">35</text>
<text x="1113.8" y="81.3">34</text>
<text x="893.1" y="146.5">49</text>
<text x="1109.9" y="149.2">46</text>
<text x="1108.2" y="196.2">44</text>
<text x="552.2" y="240.7">9</text>
<text x="694.8" y="255.5">23</text>
<text x="940.0" y="222.9">33</text>
<text x="1080.1" y="234.5">30</text>
<text x="894.7" y="246.4">6:2</text>
<text x="1095.7" y="262.5">56</text>
<text x="867.2" y="265.7">6</text>
<text x="899.0" y="265.7">42</text>
<text x="840.5" y="273.1">6:1</text>
<text x="890.0" y="287.9">42:1</text>
<text x="1200.3" y="275.9">27</text>
<text x="1014.0" y="295.9">43</text>
<text x="996.9" y="312.4">54</text>
<text x="1167.3" y="320.6">28</text>
<text x="700.5" y="304.2">24</text>
<text x="602.6" y="322.2">10</text>
<text x="870.8" y="325.5">13:2</text>
<text x="1028.0" y="330.9">13:1</text>
<text x="946.1" y="343.6">13</text>
<text x="993.1" y="347.8">25</text>
<text x="703.6" y="398.8">31</text>
<text x="871.6" y="410.3">45:2</text>
<text x="924.5" y="410.3">45</text>
<text x="924.0" y="432.5">45:1</text>
<text x="1031.9" y="430.5">7:1</text>
<text x="1017.5" y="458.9">7</text>
<text x="1032.4" y="496.1">7:2</text>
<text x="336.6" y="445.8">39</text>
<text x="293.4" y="477.1">51</text>
<text x="261.6" y="495.9">36</text>
<text x="234.3" y="525.6">37</text>
<text x="206.8" y="554.5">38</text>
<text x="711.6" y="472.9">52</text>
<text x="767.9" y="556.9">18</text>
<text x="795.0" y="532.5">22</text>
<text x="904.8" y="576.2">26</text>
<text x="552.2" y="588.3">2</text>
<text x="547.2" y="608.8">2:2</text>
<text x="92.7" y="563.7">55</text>
<text x="76.2" y="589.1">41:2</text>
<text x="218.1" y="613.8">48</text>
<text x="30.1" y="690.4">41:3</text>
<text x="47.0" y="713.8">41</text>
<text x="680.5" y="622.4">21</text>
<text x="851.5" y="628.1">8</text>
<text x="830.0" y="646.1">8:2</text>
<text x="629.2" y="659.0">11</text>
<text x="523.1" y="641.8">20</text>
<text x="776.7" y="702.2">19</text>
<text x="602.6" y="714.6">14</text>
<text x="339.8" y="734.3">40</text>
<text x="111.2" y="747.1">4</text>
<text x="227.7" y="766.9">1</text>
<text x="129.2" y="783.2">3</text>
<text x="237.2" y="787.4">1:1</text>
<text x="237.5" y="808.9">1:2</text>
<text x="237.5" y="830.2">1:3</text>
<text x="374.9" y="771.2">17</text>
<text x="458.2" y="775.4">47</text>
<text x="676.5" y="838.5">40</text>
<text x="531.5" y="849.5">15</text>
<text x="563.4" y="860.6">16</text>
<text x="408.2" y="884.9">53</text>
<text x="521.4" y="884.9">12</text>
<text x="396.6" y="905.6">53:1</text>
</g>
</svg></body></html>
